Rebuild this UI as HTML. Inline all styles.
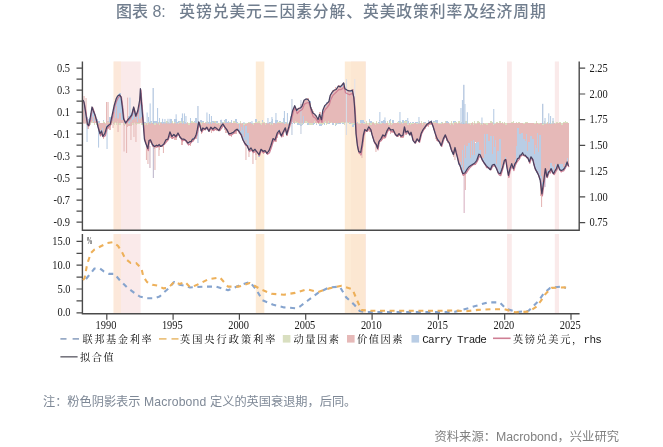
<!DOCTYPE html>
<html><head><meta charset="utf-8">
<style>
html,body{margin:0;padding:0;background:#fff;}
body{width:663px;height:447px;overflow:hidden;position:relative;}
svg{position:absolute;left:0;top:0;filter:blur(0.3px);}
.t{position:absolute;white-space:nowrap;}
.title{font-family:"Liberation Sans","Noto Sans CJK SC",sans-serif;font-weight:500;font-size:15.8px;letter-spacing:0.9px;color:#717E8E;top:1px;line-height:22px;}
.lg{position:absolute;white-space:nowrap;color:#1a1a1a;line-height:14px;}
.note{font-family:"Liberation Sans","Noto Sans CJK SC",sans-serif;font-size:12.3px;line-height:16px;}
</style></head><body>
<svg width="663" height="447" viewBox="0 0 663 447">
<rect x="114" y="61.5" width="26.6" height="168.5" fill="#FAEAEA"/>
<rect x="114" y="234" width="26.6" height="79" fill="#FAEAEA"/>
<rect x="351" y="61.5" width="15" height="168.5" fill="#FAEAEA"/>
<rect x="351" y="234" width="15" height="79" fill="#FAEAEA"/>
<rect x="507" y="61.5" width="4.8" height="168.5" fill="#FAEAEA"/>
<rect x="507" y="234" width="4.8" height="79" fill="#FAEAEA"/>
<rect x="554.8" y="61.5" width="4.2" height="168.5" fill="#FAEAEA"/>
<rect x="554.8" y="234" width="4.2" height="79" fill="#FAEAEA"/>
<rect x="113.2" y="61.5" width="7.8" height="168.5" fill="#FDE6CC" fill-opacity="0.55"/>
<rect x="113.2" y="234" width="7.8" height="79" fill="#FDE6CC" fill-opacity="0.55"/>
<rect x="255.8" y="61.5" width="8.5" height="168.5" fill="#FDE6CC" fill-opacity="0.8"/>
<rect x="255.8" y="234" width="8.5" height="79" fill="#FDE6CC" fill-opacity="0.8"/>
<rect x="344.8" y="61.5" width="20.7" height="168.5" fill="#FDE6CC" fill-opacity="0.8"/>
<rect x="344.8" y="234" width="20.7" height="79" fill="#FDE6CC" fill-opacity="0.8"/>
<g fill="#D9DFC0" shape-rendering="crispEdges"><rect x="82.7" y="123.2" width="1.5" height="0.2"/><rect x="83.8" y="121.3" width="1.5" height="1.9"/><rect x="86" y="123.2" width="1.5" height="1.4"/><rect x="87.1" y="122.6" width="1.5" height="0.6"/><rect x="88.2" y="123.2" width="1.5" height="1.8"/><rect x="89.3" y="123.2" width="1.5" height="1.8"/><rect x="90.4" y="122.3" width="1.5" height="0.9"/><rect x="91.5" y="121.1" width="1.5" height="2.1"/><rect x="92.6" y="122.5" width="1.5" height="0.7"/><rect x="93.8" y="123.2" width="1.5" height="1.5"/><rect x="94.9" y="123.1" width="1.5" height="0.1"/><rect x="96" y="123.2" width="1.5" height="1.4"/><rect x="97.1" y="123.2" width="1.5" height="2.1"/><rect x="98.2" y="123.2" width="1.5" height="0.3"/><rect x="99.3" y="123.1" width="1.5" height="0.1"/><rect x="101.5" y="123.2" width="1.5" height="0.2"/><rect x="102.6" y="121" width="1.5" height="2.2"/><rect x="103.7" y="121.7" width="1.5" height="1.5"/><rect x="104.8" y="123.2" width="1.5" height="0.8"/><rect x="105.9" y="123.2" width="1.5" height="0.9"/><rect x="107" y="122" width="1.5" height="1.2"/><rect x="108.1" y="121.7" width="1.5" height="1.5"/><rect x="109.2" y="121.2" width="1.5" height="2"/><rect x="110.3" y="123.2" width="1.5" height="2.2"/><rect x="111.4" y="121.4" width="1.5" height="1.8"/><rect x="112.5" y="121.1" width="1.5" height="2.1"/><rect x="113.6" y="123.2" width="1.5" height="1.9"/><rect x="114.7" y="122" width="1.5" height="1.2"/><rect x="115.9" y="123.2" width="1.5" height="1.8"/><rect x="117" y="121.2" width="1.5" height="2"/><rect x="118.1" y="123.2" width="1.5" height="1.7"/><rect x="119.2" y="123.2" width="1.5" height="1.8"/><rect x="120.3" y="121.9" width="1.5" height="1.3"/><rect x="121.4" y="122.9" width="1.5" height="0.3"/><rect x="122.5" y="123.2" width="1.5" height="1.4"/><rect x="123.6" y="123.2" width="1.5" height="1.6"/><rect x="124.7" y="123.2" width="1.5" height="1.7"/><rect x="125.8" y="123.2" width="1.5" height="1.3"/><rect x="126.9" y="121.1" width="1.5" height="2.1"/><rect x="128" y="123.2" width="1.5" height="0.9"/><rect x="129.1" y="123.2" width="1.5" height="1.3"/><rect x="130.2" y="121.6" width="1.5" height="1.6"/><rect x="131.3" y="123.2" width="1.5" height="1.8"/><rect x="132.4" y="123.2" width="1.5" height="1.3"/><rect x="133.5" y="122" width="1.5" height="1.2"/><rect x="134.6" y="123.2" width="1.5" height="0.9"/><rect x="135.7" y="123.2" width="1.5" height="1.8"/><rect x="136.8" y="123.2" width="1.5" height="1.1"/><rect x="138" y="123.2" width="1.5" height="0.6"/><rect x="139.1" y="121.2" width="1.5" height="2"/><rect x="140.2" y="122.9" width="1.5" height="0.3"/><rect x="141.3" y="123.2" width="1.5" height="1.4"/><rect x="142.4" y="121.4" width="1.5" height="1.8"/><rect x="143.5" y="123.2" width="1.5" height="1.4"/><rect x="144.6" y="123.2" width="1.5" height="1.3"/><rect x="145.7" y="122.7" width="1.5" height="0.5"/><rect x="146.8" y="123.2" width="1.5" height="2"/><rect x="147.9" y="122.3" width="1.5" height="0.9"/><rect x="149" y="122.8" width="1.5" height="0.4"/><rect x="150.1" y="122.2" width="1.5" height="1"/><rect x="151.2" y="122.9" width="1.5" height="0.3"/><rect x="152.3" y="123.2" width="1.5" height="1"/><rect x="153.4" y="123.2" width="1.5" height="2.1"/><rect x="154.5" y="123.2" width="1.5" height="1.9"/><rect x="155.6" y="122.9" width="1.5" height="0.3"/><rect x="156.7" y="121.5" width="1.5" height="1.7"/><rect x="157.8" y="122.4" width="1.5" height="0.8"/><rect x="158.9" y="123.2" width="1.5" height="2"/><rect x="160" y="122.3" width="1.5" height="0.9"/><rect x="161.2" y="122.6" width="1.5" height="0.6"/><rect x="162.3" y="123.2" width="1.5" height="0.8"/><rect x="163.4" y="123" width="1.5" height="0.2"/><rect x="164.5" y="122.2" width="1.5" height="1"/><rect x="165.6" y="121.4" width="1.5" height="1.8"/><rect x="166.7" y="121.4" width="1.5" height="1.8"/><rect x="167.8" y="121.9" width="1.5" height="1.3"/><rect x="168.9" y="122.7" width="1.5" height="0.5"/><rect x="170" y="122.7" width="1.5" height="0.5"/><rect x="171.1" y="121" width="1.5" height="2.2"/><rect x="172.2" y="123.2" width="1.5" height="0.5"/><rect x="173.3" y="123.2" width="1.5" height="0.3"/><rect x="174.4" y="122.1" width="1.5" height="1.1"/><rect x="175.5" y="123.2" width="1.5" height="0.1"/><rect x="177.7" y="123.2" width="1.5" height="1.1"/><rect x="178.8" y="122.4" width="1.5" height="0.8"/><rect x="179.9" y="121.4" width="1.5" height="1.8"/><rect x="181" y="121.5" width="1.5" height="1.7"/><rect x="182.1" y="123.2" width="1.5" height="1.3"/><rect x="183.3" y="121.4" width="1.5" height="1.8"/><rect x="184.4" y="122.8" width="1.5" height="0.4"/><rect x="186.6" y="122.3" width="1.5" height="0.9"/><rect x="187.7" y="123.2" width="1.5" height="1.5"/><rect x="188.8" y="123.2" width="1.5" height="1.3"/><rect x="191" y="121.1" width="1.5" height="2.1"/><rect x="192.1" y="123.2" width="1.5" height="2.1"/><rect x="193.2" y="122.3" width="1.5" height="0.9"/><rect x="194.3" y="121.9" width="1.5" height="1.3"/><rect x="195.4" y="123.2" width="1.5" height="0.2"/><rect x="196.5" y="123.2" width="1.5" height="1.2"/><rect x="197.6" y="122.6" width="1.5" height="0.6"/><rect x="198.7" y="122.5" width="1.5" height="0.7"/><rect x="199.8" y="122.4" width="1.5" height="0.8"/><rect x="200.9" y="123.2" width="1.5" height="1.4"/><rect x="202" y="122.3" width="1.5" height="0.9"/><rect x="203.1" y="123.2" width="1.5" height="0.7"/><rect x="204.2" y="122.7" width="1.5" height="0.5"/><rect x="205.4" y="121.9" width="1.5" height="1.3"/><rect x="206.5" y="121.3" width="1.5" height="1.9"/><rect x="207.6" y="123.2" width="1.5" height="0.2"/><rect x="208.7" y="123.2" width="1.5" height="0.5"/><rect x="209.8" y="121.9" width="1.5" height="1.3"/><rect x="210.9" y="122.5" width="1.5" height="0.7"/><rect x="212" y="121.8" width="1.5" height="1.4"/><rect x="213.1" y="123.2" width="1.5" height="1.3"/><rect x="214.2" y="121.1" width="1.5" height="2.1"/><rect x="215.3" y="123.2" width="1.5" height="0.8"/><rect x="216.4" y="123.2" width="1.5" height="0.7"/><rect x="217.5" y="123" width="1.5" height="0.2"/><rect x="218.6" y="123.2" width="1.5" height="2.1"/><rect x="219.7" y="121.9" width="1.5" height="1.3"/><rect x="220.8" y="121.9" width="1.5" height="1.3"/><rect x="221.9" y="123.1" width="1.5" height="0.1"/><rect x="223" y="122.4" width="1.5" height="0.8"/><rect x="224.1" y="121.2" width="1.5" height="2"/><rect x="225.2" y="123.1" width="1.5" height="0.1"/><rect x="226.3" y="122.6" width="1.5" height="0.6"/><rect x="227.5" y="122.9" width="1.5" height="0.3"/><rect x="228.6" y="121.7" width="1.5" height="1.5"/><rect x="229.7" y="121.7" width="1.5" height="1.5"/><rect x="230.8" y="122.9" width="1.5" height="0.3"/><rect x="233" y="121.1" width="1.5" height="2.1"/><rect x="234.1" y="121.9" width="1.5" height="1.3"/><rect x="235.2" y="122.4" width="1.5" height="0.8"/><rect x="236.3" y="123.2" width="1.5" height="0.4"/><rect x="237.4" y="123.2" width="1.5" height="1"/><rect x="238.5" y="123.2" width="1.5" height="0.3"/><rect x="239.6" y="121.4" width="1.5" height="1.8"/><rect x="240.7" y="123.2" width="1.5" height="0.8"/><rect x="241.8" y="122.7" width="1.5" height="0.5"/><rect x="242.9" y="123.2" width="1.5" height="1.6"/><rect x="244" y="123.2" width="1.5" height="2.1"/><rect x="245.1" y="123.2" width="1.5" height="1.2"/><rect x="246.2" y="123.2" width="1.5" height="0.8"/><rect x="247.3" y="122.7" width="1.5" height="0.5"/><rect x="248.4" y="122.2" width="1.5" height="1"/><rect x="250.7" y="123.1" width="1.5" height="0.1"/><rect x="251.8" y="123.2" width="1.5" height="0.4"/><rect x="252.9" y="123.2" width="1.5" height="1.3"/><rect x="254" y="123.1" width="1.5" height="0.1"/><rect x="255.1" y="121.6" width="1.5" height="1.6"/><rect x="256.2" y="121.8" width="1.5" height="1.4"/><rect x="257.3" y="123.2" width="1.5" height="0.8"/><rect x="258.4" y="121" width="1.5" height="2.2"/><rect x="259.5" y="123.2" width="1.5" height="1.1"/><rect x="260.6" y="123.2" width="1.5" height="1.8"/><rect x="261.7" y="121.9" width="1.5" height="1.3"/><rect x="262.8" y="122.4" width="1.5" height="0.8"/><rect x="263.9" y="122.4" width="1.5" height="0.8"/><rect x="265" y="123.2" width="1.5" height="1.7"/><rect x="267.2" y="123.2" width="1.5" height="1.9"/><rect x="268.3" y="123" width="1.5" height="0.2"/><rect x="269.4" y="123.2" width="1.5" height="1.6"/><rect x="270.5" y="121.7" width="1.5" height="1.5"/><rect x="271.7" y="123.2" width="1.5" height="1.8"/><rect x="272.8" y="123.2" width="1.5" height="0.2"/><rect x="273.9" y="123.2" width="1.5" height="0.1"/><rect x="275" y="122.8" width="1.5" height="0.4"/><rect x="276.1" y="121.7" width="1.5" height="1.5"/><rect x="277.2" y="122.1" width="1.5" height="1.1"/><rect x="278.3" y="123.2" width="1.5" height="1.5"/><rect x="279.4" y="121.5" width="1.5" height="1.7"/><rect x="280.5" y="121.6" width="1.5" height="1.6"/><rect x="281.6" y="122.8" width="1.5" height="0.4"/><rect x="282.7" y="121.9" width="1.5" height="1.3"/><rect x="283.8" y="122.1" width="1.5" height="1.1"/><rect x="284.9" y="123.2" width="1.5" height="0.4"/><rect x="286" y="122.3" width="1.5" height="0.9"/><rect x="287.1" y="123.2" width="1.5" height="0.4"/><rect x="288.2" y="123.2" width="1.5" height="0.7"/><rect x="289.3" y="123.2" width="1.5" height="0.6"/><rect x="290.4" y="123.2" width="1.5" height="1.2"/><rect x="291.5" y="122.5" width="1.5" height="0.7"/><rect x="292.6" y="122.5" width="1.5" height="0.7"/><rect x="293.8" y="123.1" width="1.5" height="0.1"/><rect x="294.9" y="121" width="1.5" height="2.2"/><rect x="296" y="122.3" width="1.5" height="0.9"/><rect x="297.1" y="121.1" width="1.5" height="2.1"/><rect x="298.2" y="122.7" width="1.5" height="0.5"/><rect x="299.3" y="123.2" width="1.5" height="1.1"/><rect x="300.4" y="123.2" width="1.5" height="2"/><rect x="301.5" y="123.2" width="1.5" height="0.5"/><rect x="302.6" y="123.2" width="1.5" height="1.1"/><rect x="303.7" y="123" width="1.5" height="0.2"/><rect x="304.8" y="121.1" width="1.5" height="2.1"/><rect x="305.9" y="121" width="1.5" height="2.2"/><rect x="307" y="121.8" width="1.5" height="1.4"/><rect x="308.1" y="122.8" width="1.5" height="0.4"/><rect x="309.2" y="123.2" width="1.5" height="2"/><rect x="310.3" y="123.2" width="1.5" height="1.5"/><rect x="311.4" y="123.2" width="1.5" height="1.5"/><rect x="312.5" y="122.7" width="1.5" height="0.5"/><rect x="313.6" y="121.2" width="1.5" height="2"/><rect x="314.7" y="123.1" width="1.5" height="0.1"/><rect x="315.9" y="123.2" width="1.5" height="0.6"/><rect x="317" y="122.5" width="1.5" height="0.7"/><rect x="318.1" y="123.2" width="1.5" height="1"/><rect x="319.2" y="123.2" width="1.5" height="0.9"/><rect x="320.3" y="123.2" width="1.5" height="1.1"/><rect x="321.4" y="123.2" width="1.5" height="1.5"/><rect x="322.5" y="123.2" width="1.5" height="0.5"/><rect x="323.6" y="122.1" width="1.5" height="1.1"/><rect x="324.7" y="121" width="1.5" height="2.2"/><rect x="325.8" y="123.2" width="1.5" height="1.9"/><rect x="326.9" y="123.2" width="1.5" height="0.3"/><rect x="328" y="121.1" width="1.5" height="2.1"/><rect x="329.1" y="123.1" width="1.5" height="0.1"/><rect x="330.2" y="122.2" width="1.5" height="1"/><rect x="331.3" y="121.1" width="1.5" height="2.1"/><rect x="332.4" y="122.7" width="1.5" height="0.5"/><rect x="333.5" y="122.7" width="1.5" height="0.5"/><rect x="334.6" y="123.2" width="1.5" height="1.3"/><rect x="335.7" y="123.1" width="1.5" height="0.1"/><rect x="336.9" y="123.2" width="1.5" height="0.3"/><rect x="338" y="123.2" width="1.5" height="0.2"/><rect x="339.1" y="122.8" width="1.5" height="0.4"/><rect x="340.2" y="122" width="1.5" height="1.2"/><rect x="341.3" y="121" width="1.5" height="2.2"/><rect x="342.4" y="122.2" width="1.5" height="1"/><rect x="343.5" y="123.2" width="1.5" height="1.7"/><rect x="344.6" y="121.9" width="1.5" height="1.3"/><rect x="345.7" y="123.2" width="1.5" height="0.6"/><rect x="346.8" y="122.4" width="1.5" height="0.8"/><rect x="347.9" y="122.8" width="1.5" height="0.4"/><rect x="349" y="122.1" width="1.5" height="1.1"/><rect x="350.1" y="123.2" width="1.5" height="1.1"/><rect x="351.2" y="121.4" width="1.5" height="1.8"/><rect x="352.3" y="123.2" width="1.5" height="2"/><rect x="353.4" y="123.2" width="1.5" height="1"/><rect x="354.5" y="122.7" width="1.5" height="0.5"/><rect x="355.6" y="123" width="1.5" height="0.2"/><rect x="356.7" y="122.4" width="1.5" height="0.8"/><rect x="357.8" y="123.2" width="1.5" height="0.6"/><rect x="359" y="123.2" width="1.5" height="0.7"/><rect x="360.1" y="123.2" width="1.5" height="1.9"/><rect x="361.2" y="122.7" width="1.5" height="0.5"/><rect x="362.3" y="123.2" width="1.5" height="0.3"/><rect x="363.4" y="123.2" width="1.5" height="0.6"/><rect x="364.5" y="123.2" width="1.5" height="0.8"/><rect x="365.6" y="121.3" width="1.5" height="1.9"/><rect x="366.7" y="123.2" width="1.5" height="1.8"/><rect x="367.8" y="123.2" width="1.5" height="1.8"/><rect x="368.9" y="122.4" width="1.5" height="0.8"/><rect x="370" y="123.2" width="1.5" height="1.9"/><rect x="371.1" y="123.2" width="1.5" height="1.8"/><rect x="372.2" y="122.3" width="1.5" height="0.9"/><rect x="373.3" y="123.2" width="1.5" height="0.6"/><rect x="374.4" y="123.2" width="1.5" height="1.7"/><rect x="375.5" y="121.4" width="1.5" height="1.8"/><rect x="376.6" y="123.2" width="1.5" height="0.3"/><rect x="377.7" y="123.2" width="1.5" height="0.8"/><rect x="378.8" y="121.5" width="1.5" height="1.7"/><rect x="379.9" y="123.2" width="1.5" height="0.6"/><rect x="381.1" y="123.2" width="1.5" height="0.5"/><rect x="382.2" y="121.9" width="1.5" height="1.3"/><rect x="383.3" y="122.9" width="1.5" height="0.3"/><rect x="384.4" y="121.5" width="1.5" height="1.7"/><rect x="385.5" y="123.1" width="1.5" height="0.1"/><rect x="386.6" y="121.1" width="1.5" height="2.1"/><rect x="387.7" y="123.2" width="1.5" height="1.9"/><rect x="388.8" y="123.2" width="1.5" height="1.8"/><rect x="389.9" y="121.4" width="1.5" height="1.8"/><rect x="391" y="123.2" width="1.5" height="1.6"/><rect x="392.1" y="123.2" width="1.5" height="1.1"/><rect x="393.2" y="123.1" width="1.5" height="0.1"/><rect x="394.3" y="123.2" width="1.5" height="0.7"/><rect x="396.5" y="122.3" width="1.5" height="0.9"/><rect x="397.6" y="121.8" width="1.5" height="1.4"/><rect x="398.7" y="121.9" width="1.5" height="1.3"/><rect x="399.8" y="121.2" width="1.5" height="2"/><rect x="400.9" y="122.3" width="1.5" height="0.9"/><rect x="402" y="123.2" width="1.5" height="0.3"/><rect x="403.2" y="121" width="1.5" height="2.2"/><rect x="404.3" y="123.2" width="1.5" height="1.3"/><rect x="405.4" y="121.1" width="1.5" height="2.1"/><rect x="406.5" y="123.2" width="1.5" height="1.7"/><rect x="407.6" y="123.2" width="1.5" height="1.4"/><rect x="408.7" y="122.8" width="1.5" height="0.4"/><rect x="409.8" y="123.2" width="1.5" height="1.7"/><rect x="410.9" y="123.2" width="1.5" height="1.2"/><rect x="412" y="123.2" width="1.5" height="1.2"/><rect x="413.1" y="123.2" width="1.5" height="1.4"/><rect x="414.2" y="123" width="1.5" height="0.2"/><rect x="415.3" y="123.2" width="1.5" height="1.1"/><rect x="416.4" y="123.2" width="1.5" height="0.7"/><rect x="417.5" y="123.2" width="1.5" height="0.1"/><rect x="418.6" y="121.2" width="1.5" height="2"/><rect x="419.7" y="123.1" width="1.5" height="0.1"/><rect x="420.8" y="121" width="1.5" height="2.2"/><rect x="421.9" y="123.2" width="1.5" height="2.2"/><rect x="423" y="121.9" width="1.5" height="1.3"/><rect x="424.1" y="123.2" width="1.5" height="1.5"/><rect x="425.3" y="123.2" width="1.5" height="1.1"/><rect x="426.4" y="122.6" width="1.5" height="0.6"/><rect x="427.5" y="123" width="1.5" height="0.2"/><rect x="428.6" y="123.2" width="1.5" height="2.2"/><rect x="429.7" y="121.8" width="1.5" height="1.4"/><rect x="430.8" y="122.2" width="1.5" height="1"/><rect x="431.9" y="123.2" width="1.5" height="0.1"/><rect x="433" y="121.6" width="1.5" height="1.6"/><rect x="434.1" y="123.2" width="1.5" height="0.4"/><rect x="435.2" y="121.8" width="1.5" height="1.4"/><rect x="436.3" y="123.1" width="1.5" height="0.1"/><rect x="437.4" y="123.2" width="1.5" height="0.8"/><rect x="438.5" y="123.2" width="1.5" height="0.9"/><rect x="439.6" y="123.2" width="1.5" height="0.6"/><rect x="440.7" y="123.2" width="1.5" height="0.5"/><rect x="441.8" y="121.7" width="1.5" height="1.5"/><rect x="442.9" y="123.2" width="1.5" height="0.5"/><rect x="444" y="122.9" width="1.5" height="0.3"/><rect x="445.1" y="121" width="1.5" height="2.2"/><rect x="446.2" y="122.7" width="1.5" height="0.5"/><rect x="447.4" y="123" width="1.5" height="0.2"/><rect x="448.5" y="123.2" width="1.5" height="0.5"/><rect x="449.6" y="123.2" width="1.5" height="1.3"/><rect x="450.7" y="121.2" width="1.5" height="2"/><rect x="451.8" y="123.2" width="1.5" height="0.7"/><rect x="452.9" y="123.2" width="1.5" height="1.6"/><rect x="454" y="122.3" width="1.5" height="0.9"/><rect x="455.1" y="121.7" width="1.5" height="1.5"/><rect x="456.2" y="123.2" width="1.5" height="1.2"/><rect x="457.3" y="123.2" width="1.5" height="0.4"/><rect x="458.4" y="121.3" width="1.5" height="1.9"/><rect x="459.5" y="123.1" width="1.5" height="0.1"/><rect x="460.6" y="122" width="1.5" height="1.2"/><rect x="461.7" y="123.2" width="1.5" height="0.5"/><rect x="462.8" y="123.2" width="1.5" height="0.4"/><rect x="463.9" y="123.2" width="1.5" height="0.4"/><rect x="465" y="121.1" width="1.5" height="2.1"/><rect x="466.1" y="122.5" width="1.5" height="0.7"/><rect x="467.2" y="123.2" width="1.5" height="2.1"/><rect x="468.3" y="123.2" width="1.5" height="0.7"/><rect x="469.5" y="123.2" width="1.5" height="1.7"/><rect x="471.7" y="121.8" width="1.5" height="1.4"/><rect x="472.8" y="123.2" width="1.5" height="1.5"/><rect x="473.9" y="121.4" width="1.5" height="1.8"/><rect x="475" y="123.2" width="1.5" height="0.6"/><rect x="476.1" y="123.2" width="1.5" height="1.6"/><rect x="477.2" y="121.1" width="1.5" height="2.1"/><rect x="478.3" y="122.3" width="1.5" height="0.9"/><rect x="479.4" y="123.2" width="1.5" height="1.3"/><rect x="480.5" y="122.6" width="1.5" height="0.6"/><rect x="481.6" y="123.2" width="1.5" height="1.8"/><rect x="482.7" y="122.9" width="1.5" height="0.3"/><rect x="483.8" y="123.2" width="1.5" height="0.8"/><rect x="484.9" y="123.2" width="1.5" height="0.6"/><rect x="486" y="123.2" width="1.5" height="1.7"/><rect x="487.1" y="123.2" width="1.5" height="1.6"/><rect x="488.2" y="123" width="1.5" height="0.2"/><rect x="489.3" y="122.9" width="1.5" height="0.3"/><rect x="490.4" y="121.4" width="1.5" height="1.8"/><rect x="491.6" y="121.8" width="1.5" height="1.4"/><rect x="492.7" y="123.2" width="1.5" height="1.7"/><rect x="493.8" y="123.2" width="1.5" height="0.9"/><rect x="494.9" y="123.2" width="1.5" height="1.1"/><rect x="496" y="121.7" width="1.5" height="1.5"/><rect x="497.1" y="123" width="1.5" height="0.2"/><rect x="498.2" y="123.2" width="1.5" height="2.1"/><rect x="499.3" y="121.1" width="1.5" height="2.1"/><rect x="500.4" y="122.5" width="1.5" height="0.7"/><rect x="501.5" y="122.4" width="1.5" height="0.8"/><rect x="502.6" y="123.2" width="1.5" height="0.5"/><rect x="503.7" y="121.9" width="1.5" height="1.3"/><rect x="504.8" y="123.2" width="1.5" height="1.3"/><rect x="505.9" y="123.2" width="1.5" height="1.6"/><rect x="507" y="122.9" width="1.5" height="0.3"/><rect x="508.1" y="123.1" width="1.5" height="0.1"/><rect x="509.2" y="122.9" width="1.5" height="0.3"/><rect x="510.3" y="122.6" width="1.5" height="0.6"/><rect x="511.4" y="122.4" width="1.5" height="0.8"/><rect x="512.5" y="121.2" width="1.5" height="2"/><rect x="513.7" y="123.2" width="1.5" height="0.1"/><rect x="514.8" y="122.7" width="1.5" height="0.5"/><rect x="515.9" y="122.1" width="1.5" height="1.1"/><rect x="517" y="123.2" width="1.5" height="0.1"/><rect x="518.1" y="121.7" width="1.5" height="1.5"/><rect x="519.2" y="123.2" width="1.5" height="0.4"/><rect x="520.3" y="122.9" width="1.5" height="0.3"/><rect x="521.4" y="123.1" width="1.5" height="0.1"/><rect x="522.5" y="123.2" width="1.5" height="0.3"/><rect x="523.6" y="123.2" width="1.5" height="0.8"/><rect x="524.7" y="122.2" width="1.5" height="1"/><rect x="525.8" y="122.2" width="1.5" height="1"/><rect x="526.9" y="122.1" width="1.5" height="1.1"/><rect x="528" y="122.8" width="1.5" height="0.4"/><rect x="529.1" y="123.2" width="1.5" height="1.7"/><rect x="531.3" y="123.2" width="1.5" height="2"/><rect x="532.4" y="123.1" width="1.5" height="0.1"/><rect x="533.5" y="123.2" width="1.5" height="0.9"/><rect x="534.6" y="123.2" width="1.5" height="1.2"/><rect x="535.8" y="121.4" width="1.5" height="1.8"/><rect x="536.9" y="122.5" width="1.5" height="0.7"/><rect x="538" y="123.2" width="1.5" height="0.3"/><rect x="539.1" y="123.2" width="1.5" height="1.2"/><rect x="540.2" y="122.9" width="1.5" height="0.3"/><rect x="541.3" y="123.2" width="1.5" height="1.8"/><rect x="542.4" y="123.2" width="1.5" height="1.7"/><rect x="543.5" y="121.2" width="1.5" height="2"/><rect x="544.6" y="123.2" width="1.5" height="1.1"/><rect x="545.7" y="123.2" width="1.5" height="0.8"/><rect x="546.8" y="121.5" width="1.5" height="1.7"/><rect x="547.9" y="123.2" width="1.5" height="0.5"/><rect x="549" y="122.8" width="1.5" height="0.4"/><rect x="550.1" y="123.2" width="1.5" height="2.1"/><rect x="551.2" y="123.2" width="1.5" height="0.8"/><rect x="552.3" y="121.3" width="1.5" height="1.9"/><rect x="553.4" y="123.2" width="1.5" height="0.1"/><rect x="554.5" y="123.2" width="1.5" height="0.9"/><rect x="555.6" y="121.5" width="1.5" height="1.7"/><rect x="556.7" y="121.7" width="1.5" height="1.5"/><rect x="557.9" y="123.2" width="1.5" height="0.1"/><rect x="559" y="121.5" width="1.5" height="1.7"/><rect x="560.1" y="123.2" width="1.5" height="1.3"/><rect x="561.2" y="123.2" width="1.5" height="1.4"/><rect x="562.3" y="123.2" width="1.5" height="2"/><rect x="563.4" y="122.2" width="1.5" height="1"/><rect x="564.5" y="121.4" width="1.5" height="1.8"/><rect x="565.6" y="122.3" width="1.5" height="0.9"/><rect x="566.7" y="122.3" width="1.5" height="0.9"/><rect x="567.8" y="123.2" width="1.5" height="0.2"/></g>
<g fill="#E6B9B8" shape-rendering="crispEdges"><rect x="82.7" y="109.9" width="1.5" height="13.3"/><rect x="83.8" y="119.9" width="1.5" height="1.5"/><rect x="84.9" y="117.9" width="1.5" height="5.3"/><rect x="86" y="123" width="1.5" height="0.2"/><rect x="87.1" y="123.2" width="1.5" height="5.3"/><rect x="88.2" y="125" width="1.5" height="0.3"/><rect x="89.3" y="122.9" width="1.5" height="0.3"/><rect x="90.4" y="120.4" width="1.5" height="2"/><rect x="91.5" y="116.9" width="1.5" height="4.2"/><rect x="92.6" y="122.4" width="1.5" height="0.1"/><rect x="93.8" y="114.8" width="1.5" height="8.4"/><rect x="94.9" y="121.3" width="1.5" height="1.7"/><rect x="96" y="121.1" width="1.5" height="2.1"/><rect x="97.1" y="125.3" width="1.5" height="0.9"/><rect x="98.2" y="123.5" width="1.5" height="8.3"/><rect x="99.3" y="123.2" width="1.5" height="6.3"/><rect x="100.4" y="123.2" width="1.5" height="9.5"/><rect x="101.5" y="123.4" width="1.5" height="4.2"/><rect x="102.6" y="123.2" width="1.5" height="16.1"/><rect x="103.7" y="123.2" width="1.5" height="8.4"/><rect x="104.8" y="124" width="1.5" height="6.4"/><rect x="105.9" y="124.1" width="1.5" height="0.9"/><rect x="107" y="123.2" width="1.5" height="5.3"/><rect x="108.1" y="123.2" width="1.5" height="4.1"/><rect x="109.2" y="123.2" width="1.5" height="7.2"/><rect x="110.3" y="121.4" width="1.5" height="1.8"/><rect x="111.4" y="120.5" width="1.5" height="0.9"/><rect x="112.5" y="123.2" width="1.5" height="0.4"/><rect x="113.6" y="112.1" width="1.5" height="11.1"/><rect x="114.7" y="118.1" width="1.5" height="3.8"/><rect x="115.9" y="105.7" width="1.5" height="17.5"/><rect x="117" y="118.9" width="1.5" height="2.3"/><rect x="118.1" y="103.3" width="1.5" height="19.9"/><rect x="119.2" y="113.3" width="1.5" height="9.9"/><rect x="120.3" y="105.4" width="1.5" height="16.5"/><rect x="121.4" y="119.7" width="1.5" height="3.3"/><rect x="122.5" y="118.8" width="1.5" height="4.4"/><rect x="123.6" y="124.8" width="1.5" height="0.7"/><rect x="124.7" y="123" width="1.5" height="0.2"/><rect x="125.8" y="122.9" width="1.5" height="0.3"/><rect x="126.9" y="123.2" width="1.5" height="4"/><rect x="128" y="124.1" width="1.5" height="2.3"/><rect x="129.1" y="120" width="1.5" height="3.2"/><rect x="130.2" y="123.2" width="1.5" height="2.7"/><rect x="131.3" y="120.2" width="1.5" height="3"/><rect x="132.4" y="119.2" width="1.5" height="4"/><rect x="133.5" y="114.7" width="1.5" height="7.3"/><rect x="134.6" y="119.8" width="1.5" height="3.4"/><rect x="135.7" y="118.2" width="1.5" height="5"/><rect x="136.8" y="121.6" width="1.5" height="1.6"/><rect x="138" y="113.3" width="1.5" height="9.9"/><rect x="139.1" y="118.8" width="1.5" height="2.4"/><rect x="140.2" y="106" width="1.5" height="16.8"/><rect x="141.3" y="117.4" width="1.5" height="5.8"/><rect x="142.4" y="119" width="1.5" height="2.4"/><rect x="143.5" y="124.6" width="1.5" height="10.4"/><rect x="144.6" y="124.5" width="1.5" height="17.6"/><rect x="145.7" y="123.2" width="1.5" height="21"/><rect x="146.8" y="125.2" width="1.5" height="21.7"/><rect x="147.9" y="123.2" width="1.5" height="26.9"/><rect x="149" y="123.2" width="1.5" height="18.5"/><rect x="150.1" y="123.2" width="1.5" height="19.5"/><rect x="151.2" y="123.2" width="1.5" height="20.3"/><rect x="152.3" y="124.2" width="1.5" height="20.2"/><rect x="153.4" y="125.3" width="1.5" height="23.3"/><rect x="154.5" y="125.1" width="1.5" height="23.2"/><rect x="155.6" y="123.2" width="1.5" height="24.7"/><rect x="156.7" y="123.2" width="1.5" height="23.8"/><rect x="157.8" y="123.2" width="1.5" height="21.6"/><rect x="158.9" y="125.2" width="1.5" height="24.9"/><rect x="160" y="123.2" width="1.5" height="22"/><rect x="161.2" y="123.2" width="1.5" height="23.7"/><rect x="162.3" y="124" width="1.5" height="20.1"/><rect x="163.4" y="123.2" width="1.5" height="21.7"/><rect x="164.5" y="123.2" width="1.5" height="20"/><rect x="165.6" y="123.2" width="1.5" height="18.7"/><rect x="166.7" y="123.2" width="1.5" height="17.8"/><rect x="167.8" y="123.2" width="1.5" height="15.8"/><rect x="168.9" y="123.2" width="1.5" height="11"/><rect x="170" y="123.2" width="1.5" height="14.4"/><rect x="171.1" y="123.2" width="1.5" height="15.3"/><rect x="172.2" y="123.7" width="1.5" height="12.1"/><rect x="173.3" y="123.5" width="1.5" height="10.2"/><rect x="174.4" y="123.2" width="1.5" height="17.1"/><rect x="175.5" y="123.3" width="1.5" height="17.1"/><rect x="176.6" y="123.2" width="1.5" height="12"/><rect x="177.7" y="124.3" width="1.5" height="11.1"/><rect x="178.8" y="123.2" width="1.5" height="14.4"/><rect x="179.9" y="123.2" width="1.5" height="16"/><rect x="181" y="123.2" width="1.5" height="21.3"/><rect x="182.1" y="124.5" width="1.5" height="15.3"/><rect x="183.3" y="123.2" width="1.5" height="17.6"/><rect x="184.4" y="123.2" width="1.5" height="17.8"/><rect x="185.5" y="123.2" width="1.5" height="18"/><rect x="186.6" y="123.2" width="1.5" height="19.3"/><rect x="187.7" y="124.7" width="1.5" height="17.9"/><rect x="188.8" y="124.5" width="1.5" height="17.9"/><rect x="189.9" y="123.2" width="1.5" height="22.9"/><rect x="191" y="123.2" width="1.5" height="18"/><rect x="192.1" y="125.3" width="1.5" height="12.7"/><rect x="193.2" y="123.2" width="1.5" height="15.3"/><rect x="194.3" y="123.2" width="1.5" height="16"/><rect x="195.4" y="123.4" width="1.5" height="15.7"/><rect x="196.5" y="124.4" width="1.5" height="6.3"/><rect x="197.6" y="123.2" width="1.5" height="2.4"/><rect x="198.7" y="123.2" width="1.5" height="2"/><rect x="199.8" y="123.2" width="1.5" height="7.8"/><rect x="200.9" y="124.6" width="1.5" height="9.2"/><rect x="202" y="123.2" width="1.5" height="7.8"/><rect x="203.1" y="123.9" width="1.5" height="4.6"/><rect x="204.2" y="123.2" width="1.5" height="6.3"/><rect x="205.4" y="123.2" width="1.5" height="5.4"/><rect x="206.5" y="123.2" width="1.5" height="5.6"/><rect x="207.6" y="123.4" width="1.5" height="7.3"/><rect x="208.7" y="123.7" width="1.5" height="7.4"/><rect x="209.8" y="123.2" width="1.5" height="6.2"/><rect x="210.9" y="123.2" width="1.5" height="9.6"/><rect x="212" y="123.2" width="1.5" height="7.6"/><rect x="213.1" y="124.5" width="1.5" height="4.9"/><rect x="214.2" y="123.2" width="1.5" height="6.7"/><rect x="215.3" y="124" width="1.5" height="4.7"/><rect x="216.4" y="123.9" width="1.5" height="7.5"/><rect x="217.5" y="123.2" width="1.5" height="6.8"/><rect x="218.6" y="125.3" width="1.5" height="3.9"/><rect x="219.7" y="123.2" width="1.5" height="7.9"/><rect x="220.8" y="123.2" width="1.5" height="4.8"/><rect x="221.9" y="123.2" width="1.5" height="2"/><rect x="223" y="123.2" width="1.5" height="2.7"/><rect x="224.1" y="123.2" width="1.5" height="7"/><rect x="225.2" y="123.2" width="1.5" height="9.7"/><rect x="226.3" y="123.2" width="1.5" height="8"/><rect x="227.5" y="123.2" width="1.5" height="11.5"/><rect x="228.6" y="123.2" width="1.5" height="11.6"/><rect x="229.7" y="123.2" width="1.5" height="11.9"/><rect x="230.8" y="123.2" width="1.5" height="13.5"/><rect x="231.9" y="123.2" width="1.5" height="8.7"/><rect x="233" y="123.2" width="1.5" height="10.7"/><rect x="234.1" y="123.2" width="1.5" height="9.1"/><rect x="235.2" y="123.2" width="1.5" height="11"/><rect x="236.3" y="123.6" width="1.5" height="6.6"/><rect x="237.4" y="124.2" width="1.5" height="5.2"/><rect x="238.5" y="123.5" width="1.5" height="0.3"/><rect x="239.6" y="123.2" width="1.5" height="7.8"/><rect x="240.7" y="124" width="1.5" height="3.1"/><rect x="241.8" y="123.2" width="1.5" height="7"/><rect x="242.9" y="123.1" width="1.5" height="0.1"/><rect x="244" y="125.3" width="1.5" height="12"/><rect x="245.1" y="124.4" width="1.5" height="1.4"/><rect x="246.2" y="124" width="1.5" height="13.8"/><rect x="247.3" y="123.2" width="1.5" height="9.3"/><rect x="248.4" y="123.2" width="1.5" height="21.1"/><rect x="249.6" y="123.2" width="1.5" height="26.5"/><rect x="250.7" y="123.2" width="1.5" height="25"/><rect x="251.8" y="123.6" width="1.5" height="25.9"/><rect x="252.9" y="124.5" width="1.5" height="26.7"/><rect x="254" y="123.2" width="1.5" height="26.9"/><rect x="255.1" y="123.2" width="1.5" height="31.5"/><rect x="256.2" y="123.2" width="1.5" height="29.4"/><rect x="257.3" y="124" width="1.5" height="28.6"/><rect x="258.4" y="123.2" width="1.5" height="32.9"/><rect x="259.5" y="124.3" width="1.5" height="27"/><rect x="260.6" y="125" width="1.5" height="24.3"/><rect x="261.7" y="123.2" width="1.5" height="30.2"/><rect x="262.8" y="123.2" width="1.5" height="29.6"/><rect x="263.9" y="123.2" width="1.5" height="29.3"/><rect x="265" y="124.9" width="1.5" height="27"/><rect x="266.1" y="123.2" width="1.5" height="29.1"/><rect x="267.2" y="125.1" width="1.5" height="27.3"/><rect x="268.3" y="123.2" width="1.5" height="27.9"/><rect x="269.4" y="124.8" width="1.5" height="24"/><rect x="270.5" y="123.2" width="1.5" height="24.1"/><rect x="271.7" y="125" width="1.5" height="20.1"/><rect x="272.8" y="123.4" width="1.5" height="15.1"/><rect x="273.9" y="123.3" width="1.5" height="16"/><rect x="275" y="123.2" width="1.5" height="18.4"/><rect x="276.1" y="123.2" width="1.5" height="15.1"/><rect x="277.2" y="123.2" width="1.5" height="9.7"/><rect x="278.3" y="124.7" width="1.5" height="5.3"/><rect x="279.4" y="123.2" width="1.5" height="11.4"/><rect x="280.5" y="123.2" width="1.5" height="13.7"/><rect x="281.6" y="123.2" width="1.5" height="12.2"/><rect x="282.7" y="123.2" width="1.5" height="13.7"/><rect x="283.8" y="123.2" width="1.5" height="8.2"/><rect x="284.9" y="123.6" width="1.5" height="5.8"/><rect x="286" y="123.2" width="1.5" height="12.5"/><rect x="287.1" y="123.6" width="1.5" height="6.4"/><rect x="288.2" y="123.9" width="1.5" height="2.2"/><rect x="289.3" y="122.3" width="1.5" height="0.9"/><rect x="290.4" y="118.6" width="1.5" height="4.6"/><rect x="291.5" y="112.4" width="1.5" height="10"/><rect x="292.6" y="109.5" width="1.5" height="13"/><rect x="293.8" y="106.2" width="1.5" height="16.9"/><rect x="294.9" y="107.9" width="1.5" height="13.1"/><rect x="296" y="111" width="1.5" height="11.3"/><rect x="297.1" y="107.6" width="1.5" height="13.5"/><rect x="298.2" y="109.3" width="1.5" height="13.3"/><rect x="299.3" y="106.7" width="1.5" height="16.5"/><rect x="300.4" y="104.3" width="1.5" height="18.9"/><rect x="301.5" y="103.9" width="1.5" height="19.3"/><rect x="302.6" y="103.3" width="1.5" height="19.9"/><rect x="303.7" y="100.1" width="1.5" height="22.9"/><rect x="304.8" y="99.6" width="1.5" height="21.6"/><rect x="305.9" y="99.6" width="1.5" height="21.4"/><rect x="307" y="97.7" width="1.5" height="24.2"/><rect x="308.1" y="101.5" width="1.5" height="21.3"/><rect x="309.2" y="103" width="1.5" height="20.2"/><rect x="310.3" y="106.5" width="1.5" height="16.7"/><rect x="311.4" y="109.4" width="1.5" height="13.8"/><rect x="312.5" y="111.4" width="1.5" height="11.3"/><rect x="313.6" y="113.6" width="1.5" height="7.6"/><rect x="314.7" y="115.4" width="1.5" height="7.7"/><rect x="315.9" y="115" width="1.5" height="8.2"/><rect x="317" y="118.7" width="1.5" height="3.8"/><rect x="318.1" y="117.6" width="1.5" height="5.6"/><rect x="319.2" y="112.1" width="1.5" height="11.1"/><rect x="320.3" y="114.9" width="1.5" height="8.3"/><rect x="321.4" y="116.1" width="1.5" height="7.1"/><rect x="322.5" y="110.8" width="1.5" height="12.4"/><rect x="323.6" y="105.3" width="1.5" height="16.8"/><rect x="324.7" y="106.9" width="1.5" height="14.1"/><rect x="325.8" y="103.8" width="1.5" height="19.4"/><rect x="326.9" y="102.5" width="1.5" height="20.7"/><rect x="328" y="100.8" width="1.5" height="20.3"/><rect x="329.1" y="99.7" width="1.5" height="23.4"/><rect x="330.2" y="94.4" width="1.5" height="27.8"/><rect x="331.3" y="93.9" width="1.5" height="27.2"/><rect x="332.4" y="89.8" width="1.5" height="33"/><rect x="333.5" y="90" width="1.5" height="32.6"/><rect x="334.6" y="86.7" width="1.5" height="36.5"/><rect x="335.7" y="87.8" width="1.5" height="35.2"/><rect x="336.9" y="88" width="1.5" height="35.2"/><rect x="338" y="85" width="1.5" height="38.2"/><rect x="339.1" y="86.2" width="1.5" height="36.6"/><rect x="340.2" y="86.5" width="1.5" height="35.5"/><rect x="341.3" y="87.1" width="1.5" height="33.9"/><rect x="342.4" y="82.8" width="1.5" height="39.4"/><rect x="343.5" y="84.5" width="1.5" height="38.7"/><rect x="344.6" y="89.4" width="1.5" height="32.6"/><rect x="345.7" y="88.1" width="1.5" height="35.1"/><rect x="346.8" y="90.5" width="1.5" height="31.9"/><rect x="347.9" y="91.1" width="1.5" height="31.7"/><rect x="349" y="89.6" width="1.5" height="32.5"/><rect x="350.1" y="91.6" width="1.5" height="31.6"/><rect x="351.2" y="91.9" width="1.5" height="29.5"/><rect x="352.3" y="89.1" width="1.5" height="34.1"/><rect x="353.4" y="98.7" width="1.5" height="24.5"/><rect x="354.5" y="114.3" width="1.5" height="8.4"/><rect x="355.6" y="123.2" width="1.5" height="12.5"/><rect x="356.7" y="123.2" width="1.5" height="22.5"/><rect x="357.8" y="123.8" width="1.5" height="25.9"/><rect x="359" y="123.9" width="1.5" height="28.7"/><rect x="360.1" y="125.1" width="1.5" height="30.4"/><rect x="361.2" y="123.2" width="1.5" height="23.3"/><rect x="362.3" y="123.5" width="1.5" height="18.8"/><rect x="363.4" y="123.8" width="1.5" height="10.1"/><rect x="364.5" y="124" width="1.5" height="6.2"/><rect x="365.6" y="123.2" width="1.5" height="8.8"/><rect x="366.7" y="125" width="1.5" height="4.2"/><rect x="367.8" y="125" width="1.5" height="2.7"/><rect x="368.9" y="123.2" width="1.5" height="8.4"/><rect x="370" y="125.1" width="1.5" height="6.7"/><rect x="371.1" y="125" width="1.5" height="8.5"/><rect x="372.2" y="123.2" width="1.5" height="15.2"/><rect x="373.3" y="123.8" width="1.5" height="16.4"/><rect x="374.4" y="124.9" width="1.5" height="17.9"/><rect x="375.5" y="123.2" width="1.5" height="23.6"/><rect x="376.6" y="123.5" width="1.5" height="23.5"/><rect x="377.7" y="124" width="1.5" height="21.4"/><rect x="378.8" y="123.2" width="1.5" height="20.9"/><rect x="379.9" y="123.8" width="1.5" height="15.4"/><rect x="381.1" y="123.7" width="1.5" height="16.1"/><rect x="382.2" y="123.2" width="1.5" height="14.1"/><rect x="383.3" y="123.2" width="1.5" height="15.6"/><rect x="384.4" y="123.2" width="1.5" height="14.7"/><rect x="385.5" y="123.2" width="1.5" height="10.2"/><rect x="386.6" y="123.2" width="1.5" height="10"/><rect x="387.7" y="125.1" width="1.5" height="4.1"/><rect x="388.8" y="125" width="1.5" height="6"/><rect x="389.9" y="123.2" width="1.5" height="10.7"/><rect x="391" y="124.8" width="1.5" height="5.5"/><rect x="392.1" y="124.3" width="1.5" height="8.4"/><rect x="393.2" y="123.2" width="1.5" height="7.7"/><rect x="394.3" y="123.9" width="1.5" height="9.7"/><rect x="395.4" y="123.2" width="1.5" height="12.1"/><rect x="396.5" y="123.2" width="1.5" height="13.6"/><rect x="397.6" y="123.2" width="1.5" height="13.6"/><rect x="398.7" y="123.2" width="1.5" height="12.9"/><rect x="399.8" y="123.2" width="1.5" height="14.3"/><rect x="400.9" y="123.2" width="1.5" height="13.4"/><rect x="402" y="123.5" width="1.5" height="14.6"/><rect x="403.2" y="123.2" width="1.5" height="9.1"/><rect x="404.3" y="124.5" width="1.5" height="3.6"/><rect x="405.4" y="123.2" width="1.5" height="12.2"/><rect x="406.5" y="124.9" width="1.5" height="7"/><rect x="407.6" y="124.6" width="1.5" height="9"/><rect x="408.7" y="123.2" width="1.5" height="10.2"/><rect x="409.8" y="124.9" width="1.5" height="9.5"/><rect x="410.9" y="124.4" width="1.5" height="9.8"/><rect x="412" y="124.4" width="1.5" height="15.2"/><rect x="413.1" y="124.6" width="1.5" height="16.2"/><rect x="414.2" y="123.2" width="1.5" height="19.6"/><rect x="415.3" y="124.3" width="1.5" height="17.9"/><rect x="416.4" y="123.9" width="1.5" height="16.2"/><rect x="417.5" y="123.3" width="1.5" height="17.1"/><rect x="418.6" y="123.2" width="1.5" height="19.8"/><rect x="419.7" y="123.2" width="1.5" height="13.4"/><rect x="420.8" y="123.2" width="1.5" height="11.5"/><rect x="421.9" y="125.4" width="1.5" height="5.1"/><rect x="423" y="123.2" width="1.5" height="7.2"/><rect x="424.1" y="124.7" width="1.5" height="3.9"/><rect x="425.3" y="124.3" width="1.5" height="1.7"/><rect x="426.4" y="123.2" width="1.5" height="1.4"/><rect x="427.5" y="123.2" width="1.5" height="3.6"/><rect x="428.6" y="121.4" width="1.5" height="1.8"/><rect x="429.7" y="123.2" width="1.5" height="1.4"/><rect x="430.8" y="123.2" width="1.5" height="1.5"/><rect x="431.9" y="123.3" width="1.5" height="1.6"/><rect x="433" y="123.2" width="1.5" height="6.9"/><rect x="434.1" y="123.6" width="1.5" height="7.3"/><rect x="435.2" y="123.2" width="1.5" height="15.5"/><rect x="436.3" y="123.2" width="1.5" height="18.2"/><rect x="437.4" y="124" width="1.5" height="15"/><rect x="438.5" y="124.1" width="1.5" height="17.8"/><rect x="439.6" y="123.8" width="1.5" height="18.9"/><rect x="440.7" y="123.7" width="1.5" height="22.6"/><rect x="441.8" y="123.2" width="1.5" height="19.1"/><rect x="442.9" y="123.7" width="1.5" height="14.3"/><rect x="444" y="123.2" width="1.5" height="12.4"/><rect x="445.1" y="123.2" width="1.5" height="14.3"/><rect x="446.2" y="123.2" width="1.5" height="17.8"/><rect x="447.4" y="123.2" width="1.5" height="19.4"/><rect x="448.5" y="123.7" width="1.5" height="18.4"/><rect x="449.6" y="124.5" width="1.5" height="20.9"/><rect x="450.7" y="123.2" width="1.5" height="28.6"/><rect x="451.8" y="123.9" width="1.5" height="27.4"/><rect x="452.9" y="124.8" width="1.5" height="31.9"/><rect x="454" y="123.2" width="1.5" height="28.8"/><rect x="455.1" y="123.2" width="1.5" height="27.6"/><rect x="456.2" y="124.4" width="1.5" height="30.8"/><rect x="457.3" y="123.6" width="1.5" height="35.3"/><rect x="458.4" y="123.2" width="1.5" height="39.6"/><rect x="459.5" y="123.2" width="1.5" height="38.5"/><rect x="460.6" y="123.2" width="1.5" height="41.3"/><rect x="461.7" y="123.7" width="1.5" height="26.2"/><rect x="462.8" y="123.6" width="1.5" height="46.4"/><rect x="463.9" y="123.6" width="1.5" height="21.4"/><rect x="465" y="123.2" width="1.5" height="35"/><rect x="466.1" y="123.2" width="1.5" height="22.4"/><rect x="467.2" y="125.3" width="1.5" height="35.2"/><rect x="468.3" y="123.9" width="1.5" height="19.1"/><rect x="469.5" y="124.9" width="1.5" height="33.2"/><rect x="470.6" y="123.2" width="1.5" height="17.4"/><rect x="471.7" y="123.2" width="1.5" height="32"/><rect x="472.8" y="124.7" width="1.5" height="15.5"/><rect x="473.9" y="123.2" width="1.5" height="32.1"/><rect x="475" y="123.8" width="1.5" height="18.6"/><rect x="476.1" y="124.8" width="1.5" height="24.7"/><rect x="477.2" y="123.2" width="1.5" height="19"/><rect x="478.3" y="123.2" width="1.5" height="28.2"/><rect x="479.4" y="124.5" width="1.5" height="25.8"/><rect x="480.5" y="123.2" width="1.5" height="33.3"/><rect x="481.6" y="125" width="1.5" height="33.1"/><rect x="482.7" y="123.2" width="1.5" height="34.5"/><rect x="483.8" y="124" width="1.5" height="10.2"/><rect x="484.9" y="123.8" width="1.5" height="30.5"/><rect x="486" y="124.9" width="1.5" height="9.4"/><rect x="487.1" y="124.8" width="1.5" height="24.1"/><rect x="488.2" y="123.2" width="1.5" height="18.1"/><rect x="489.3" y="123.2" width="1.5" height="38.3"/><rect x="490.4" y="123.2" width="1.5" height="13.1"/><rect x="491.6" y="123.2" width="1.5" height="31"/><rect x="492.7" y="124.9" width="1.5" height="11.2"/><rect x="493.8" y="124.1" width="1.5" height="23.3"/><rect x="494.9" y="124.3" width="1.5" height="15.9"/><rect x="496" y="123.2" width="1.5" height="40.5"/><rect x="497.1" y="123.2" width="1.5" height="27.3"/><rect x="498.2" y="125.3" width="1.5" height="40.8"/><rect x="499.3" y="123.2" width="1.5" height="15.8"/><rect x="500.4" y="123.2" width="1.5" height="47.2"/><rect x="501.5" y="123.2" width="1.5" height="41.5"/><rect x="502.6" y="123.7" width="1.5" height="37.6"/><rect x="503.7" y="123.2" width="1.5" height="38.9"/><rect x="504.8" y="124.5" width="1.5" height="32.6"/><rect x="505.9" y="124.8" width="1.5" height="37.4"/><rect x="507" y="123.2" width="1.5" height="46.8"/><rect x="508.1" y="123.2" width="1.5" height="49"/><rect x="509.2" y="123.2" width="1.5" height="44.3"/><rect x="510.3" y="123.2" width="1.5" height="43.2"/><rect x="511.4" y="123.2" width="1.5" height="41.1"/><rect x="512.5" y="123.2" width="1.5" height="42.5"/><rect x="513.7" y="123.3" width="1.5" height="40.1"/><rect x="514.8" y="123.2" width="1.5" height="36.2"/><rect x="515.9" y="123.2" width="1.5" height="23"/><rect x="517" y="123.3" width="1.5" height="4.3"/><rect x="518.1" y="123.2" width="1.5" height="19.7"/><rect x="519.2" y="123.6" width="1.5" height="10.8"/><rect x="520.3" y="123.2" width="1.5" height="16.4"/><rect x="521.4" y="123.2" width="1.5" height="9.4"/><rect x="522.5" y="123.5" width="1.5" height="15.1"/><rect x="523.6" y="124" width="1.5" height="14.6"/><rect x="524.7" y="123.2" width="1.5" height="17.6"/><rect x="525.8" y="123.2" width="1.5" height="10.3"/><rect x="526.9" y="123.2" width="1.5" height="27.8"/><rect x="528" y="123.2" width="1.5" height="18.4"/><rect x="529.1" y="124.9" width="1.5" height="25.2"/><rect x="530.2" y="123.2" width="1.5" height="12.3"/><rect x="531.3" y="125.2" width="1.5" height="19.2"/><rect x="532.4" y="123.2" width="1.5" height="15.8"/><rect x="533.5" y="124.1" width="1.5" height="29.6"/><rect x="534.6" y="124.4" width="1.5" height="21"/><rect x="535.8" y="123.2" width="1.5" height="24.9"/><rect x="536.9" y="123.2" width="1.5" height="9.3"/><rect x="538" y="123.5" width="1.5" height="28.6"/><rect x="539.1" y="124.4" width="1.5" height="11"/><rect x="540.2" y="123.2" width="1.5" height="53.2"/><rect x="541.3" y="125" width="1.5" height="59.9"/><rect x="542.4" y="124.9" width="1.5" height="56.7"/><rect x="543.5" y="123.2" width="1.5" height="57.3"/><rect x="544.6" y="124.3" width="1.5" height="43.4"/><rect x="545.7" y="124" width="1.5" height="49.1"/><rect x="546.8" y="123.2" width="1.5" height="47.8"/><rect x="547.9" y="123.7" width="1.5" height="46"/><rect x="549" y="123.2" width="1.5" height="47.5"/><rect x="550.1" y="125.3" width="1.5" height="37.7"/><rect x="551.2" y="124" width="1.5" height="42.4"/><rect x="552.3" y="123.2" width="1.5" height="43.6"/><rect x="553.4" y="123.3" width="1.5" height="48.2"/><rect x="554.5" y="124.1" width="1.5" height="40.1"/><rect x="555.6" y="123.2" width="1.5" height="45.5"/><rect x="556.7" y="123.2" width="1.5" height="41.8"/><rect x="557.9" y="123.3" width="1.5" height="41.5"/><rect x="559" y="123.2" width="1.5" height="41"/><rect x="560.1" y="124.5" width="1.5" height="40.9"/><rect x="561.2" y="124.6" width="1.5" height="39.4"/><rect x="562.3" y="125.2" width="1.5" height="43.6"/><rect x="563.4" y="123.2" width="1.5" height="44.1"/><rect x="564.5" y="123.2" width="1.5" height="39.7"/><rect x="565.6" y="123.2" width="1.5" height="41.1"/><rect x="566.7" y="123.2" width="1.5" height="34.5"/><rect x="567.8" y="123.4" width="1.5" height="42"/></g>
<g fill="#B9CDE5" shape-rendering="crispEdges"><rect x="82.7" y="100.3" width="1.5" height="9.6"/><rect x="83.8" y="104.3" width="1.5" height="15.6"/><rect x="84.9" y="111.4" width="1.5" height="6.5"/><rect x="86" y="117.2" width="1.5" height="5.8"/><rect x="87.1" y="119" width="1.5" height="3.6"/><rect x="88.2" y="123.1" width="1.5" height="0.1"/><rect x="89.3" y="117.8" width="1.5" height="5.1"/><rect x="90.4" y="113.1" width="1.5" height="7.3"/><rect x="91.5" y="107.3" width="1.5" height="9.6"/><rect x="92.6" y="110.4" width="1.5" height="12"/><rect x="93.8" y="111.7" width="1.5" height="3.1"/><rect x="94.9" y="116" width="1.5" height="5.3"/><rect x="96" y="119.1" width="1.5" height="2"/><rect x="97.1" y="122.3" width="1.5" height="0.9"/><rect x="98.2" y="120.9" width="1.5" height="2.3"/><rect x="99.3" y="129.5" width="1.5" height="3.7"/><rect x="100.4" y="122.5" width="1.5" height="0.7"/><rect x="101.5" y="127.6" width="1.5" height="5.6"/><rect x="102.6" y="119.9" width="1.5" height="1.2"/><rect x="103.7" y="131.6" width="1.5" height="4.3"/><rect x="104.8" y="130.4" width="1.5" height="1.4"/><rect x="105.9" y="125" width="1.5" height="3.1"/><rect x="107" y="120.9" width="1.5" height="1.1"/><rect x="108.1" y="121.2" width="1.5" height="0.5"/><rect x="109.2" y="117.3" width="1.5" height="3.8"/><rect x="110.3" y="119" width="1.5" height="2.5"/><rect x="111.4" y="116" width="1.5" height="4.5"/><rect x="112.5" y="110.4" width="1.5" height="10.7"/><rect x="113.6" y="103.7" width="1.5" height="8.4"/><rect x="114.7" y="101.8" width="1.5" height="16.3"/><rect x="115.9" y="96.6" width="1.5" height="9.1"/><rect x="117" y="96.2" width="1.5" height="22.7"/><rect x="118.1" y="93.7" width="1.5" height="9.6"/><rect x="119.2" y="93.2" width="1.5" height="20.1"/><rect x="120.3" y="96.5" width="1.5" height="8.9"/><rect x="121.4" y="103.9" width="1.5" height="15.7"/><rect x="122.5" y="112.3" width="1.5" height="6.5"/><rect x="123.6" y="117.8" width="1.5" height="5.4"/><rect x="124.7" y="120.6" width="1.5" height="2.4"/><rect x="125.8" y="120.6" width="1.5" height="2.3"/><rect x="126.9" y="116.2" width="1.5" height="4.9"/><rect x="128" y="115.8" width="1.5" height="7.4"/><rect x="129.1" y="116.4" width="1.5" height="3.6"/><rect x="130.2" y="113.5" width="1.5" height="8.1"/><rect x="131.3" y="112.6" width="1.5" height="7.6"/><rect x="132.4" y="108.6" width="1.5" height="10.6"/><rect x="133.5" y="108.7" width="1.5" height="6"/><rect x="134.6" y="112.8" width="1.5" height="7"/><rect x="135.7" y="112.7" width="1.5" height="5.5"/><rect x="136.8" y="110.6" width="1.5" height="11"/><rect x="138" y="106" width="1.5" height="7.3"/><rect x="139.1" y="100.5" width="1.5" height="18.3"/><rect x="140.2" y="92.5" width="1.5" height="13.5"/><rect x="141.3" y="104.6" width="1.5" height="12.8"/><rect x="142.4" y="123.2" width="1.5" height="0.5"/><rect x="143.5" y="122.3" width="1.5" height="0.9"/><rect x="144.6" y="122.4" width="1.5" height="0.8"/><rect x="145.7" y="144.2" width="1.5" height="0.8"/><rect x="146.8" y="146.9" width="1.5" height="0.5"/><rect x="147.9" y="117.4" width="1.5" height="4.9"/><rect x="149" y="121.7" width="1.5" height="1.1"/><rect x="150.1" y="120.9" width="1.5" height="1.4"/><rect x="151.2" y="122.7" width="1.5" height="0.2"/><rect x="152.3" y="144.4" width="1.5" height="0.6"/><rect x="153.4" y="120.5" width="1.5" height="2.7"/><rect x="154.5" y="121" width="1.5" height="2.2"/><rect x="155.6" y="120.7" width="1.5" height="2.2"/><rect x="156.7" y="121.2" width="1.5" height="0.3"/><rect x="157.8" y="144.8" width="1.5" height="0.7"/><rect x="158.9" y="117.7" width="1.5" height="5.5"/><rect x="160" y="145.2" width="1.5" height="1"/><rect x="161.2" y="122.1" width="1.5" height="0.5"/><rect x="162.3" y="144.1" width="1.5" height="0.8"/><rect x="163.4" y="122.2" width="1.5" height="0.8"/><rect x="164.5" y="121.6" width="1.5" height="0.6"/><rect x="165.6" y="121" width="1.5" height="0.4"/><rect x="166.7" y="141" width="1.5" height="0.2"/><rect x="167.8" y="121.8" width="1.5" height="0.1"/><rect x="168.9" y="122.5" width="1.5" height="0.2"/><rect x="170" y="118.9" width="1.5" height="3.8"/><rect x="171.1" y="120.6" width="1.5" height="0.5"/><rect x="172.2" y="123" width="1.5" height="0.2"/><rect x="173.3" y="133.7" width="1.5" height="0.8"/><rect x="174.4" y="118.5" width="1.5" height="3.6"/><rect x="175.5" y="119" width="1.5" height="4.2"/><rect x="176.6" y="122.4" width="1.5" height="0.8"/><rect x="177.7" y="121.4" width="1.5" height="1.8"/><rect x="178.8" y="121.4" width="1.5" height="1"/><rect x="179.9" y="139.2" width="1.5" height="0.1"/><rect x="181" y="117.5" width="1.5" height="4"/><rect x="182.1" y="122.6" width="1.5" height="0.6"/><rect x="183.3" y="140.8" width="1.5" height="0.2"/><rect x="184.4" y="122" width="1.5" height="0.8"/><rect x="185.5" y="122.5" width="1.5" height="0.7"/><rect x="186.6" y="142.5" width="1.5" height="0.4"/><rect x="187.7" y="142.6" width="1.5" height="0.4"/><rect x="188.8" y="122.9" width="1.5" height="0.3"/><rect x="189.9" y="118.2" width="1.5" height="5"/><rect x="191" y="141.2" width="1.5" height="0.9"/><rect x="192.1" y="138" width="1.5" height="0.9"/><rect x="193.2" y="138.5" width="1.5" height="0.4"/><rect x="194.3" y="121.1" width="1.5" height="0.8"/><rect x="195.4" y="118.2" width="1.5" height="5"/><rect x="196.5" y="122.9" width="1.5" height="0.3"/><rect x="197.6" y="122.4" width="1.5" height="0.3"/><rect x="198.7" y="121.6" width="1.5" height="0.9"/><rect x="199.8" y="119.5" width="1.5" height="2.9"/><rect x="200.9" y="120.4" width="1.5" height="2.8"/><rect x="202" y="120.6" width="1.5" height="1.6"/><rect x="204.2" y="129.5" width="1.5" height="0.2"/><rect x="205.4" y="128.6" width="1.5" height="0.8"/><rect x="206.5" y="128.8" width="1.5" height="0.7"/><rect x="207.6" y="122.4" width="1.5" height="0.8"/><rect x="208.7" y="122.4" width="1.5" height="0.8"/><rect x="209.8" y="129.4" width="1.5" height="0.1"/><rect x="210.9" y="118.2" width="1.5" height="4.3"/><rect x="212" y="121.4" width="1.5" height="0.4"/><rect x="213.1" y="122.2" width="1.5" height="1"/><rect x="214.2" y="120.5" width="1.5" height="0.6"/><rect x="215.3" y="122.5" width="1.5" height="0.7"/><rect x="216.4" y="120.6" width="1.5" height="2.6"/><rect x="218.6" y="129.2" width="1.5" height="0.9"/><rect x="219.7" y="119.9" width="1.5" height="2"/><rect x="220.8" y="121" width="1.5" height="0.9"/><rect x="221.9" y="122.4" width="1.5" height="0.7"/><rect x="224.1" y="119.9" width="1.5" height="1.3"/><rect x="225.2" y="118.7" width="1.5" height="4.4"/><rect x="226.3" y="121.9" width="1.5" height="0.7"/><rect x="227.5" y="120.6" width="1.5" height="2.3"/><rect x="228.6" y="134.8" width="1.5" height="0.6"/><rect x="230.8" y="119.7" width="1.5" height="3.2"/><rect x="231.9" y="131.9" width="1.5" height="0.9"/><rect x="233" y="133.9" width="1.5" height="0.2"/><rect x="235.2" y="119.1" width="1.5" height="3.2"/><rect x="236.3" y="122.4" width="1.5" height="0.8"/><rect x="237.4" y="129.4" width="1.5" height="0.7"/><rect x="238.5" y="123.8" width="1.5" height="7.5"/><rect x="239.6" y="131" width="1.5" height="3.9"/><rect x="240.7" y="127.1" width="1.5" height="8.2"/><rect x="241.8" y="130.2" width="1.5" height="8.6"/><rect x="242.9" y="124.8" width="1.5" height="16.1"/><rect x="244" y="137.3" width="1.5" height="5.4"/><rect x="245.1" y="125.8" width="1.5" height="18.4"/><rect x="246.2" y="137.8" width="1.5" height="7.6"/><rect x="247.3" y="132.5" width="1.5" height="15.6"/><rect x="248.4" y="144.3" width="1.5" height="6.7"/><rect x="249.6" y="122.4" width="1.5" height="0.8"/><rect x="250.7" y="148.2" width="1.5" height="0.2"/><rect x="251.8" y="149.5" width="1.5" height="0.7"/><rect x="252.9" y="122.9" width="1.5" height="0.3"/><rect x="254" y="122.8" width="1.5" height="0.2"/><rect x="255.1" y="118.7" width="1.5" height="3"/><rect x="256.2" y="152.6" width="1.5" height="0.4"/><rect x="257.3" y="152.6" width="1.5" height="0.6"/><rect x="258.4" y="156.1" width="1.5" height="0.7"/><rect x="259.5" y="151.4" width="1.5" height="0.5"/><rect x="260.6" y="149.3" width="1.5" height="0.2"/><rect x="261.7" y="120.3" width="1.5" height="1.6"/><rect x="262.8" y="121.6" width="1.5" height="0.8"/><rect x="263.9" y="121.5" width="1.5" height="0.9"/><rect x="265" y="122.7" width="1.5" height="0.5"/><rect x="266.1" y="152.3" width="1.5" height="0.6"/><rect x="267.2" y="123.1" width="1.5" height="0.1"/><rect x="268.3" y="122.8" width="1.5" height="0.1"/><rect x="269.4" y="122.4" width="1.5" height="0.8"/><rect x="270.5" y="120.8" width="1.5" height="0.9"/><rect x="271.7" y="119.4" width="1.5" height="3.8"/><rect x="272.8" y="138.5" width="1.5" height="0.3"/><rect x="273.9" y="139.4" width="1.5" height="0.1"/><rect x="275" y="120" width="1.5" height="2.8"/><rect x="276.1" y="119.9" width="1.5" height="1.8"/><rect x="277.2" y="132.9" width="1.5" height="0.6"/><rect x="278.3" y="130" width="1.5" height="1"/><rect x="279.4" y="121.1" width="1.5" height="0.4"/><rect x="280.5" y="136.9" width="1.5" height="0.2"/><rect x="281.6" y="121.8" width="1.5" height="1"/><rect x="282.7" y="118.2" width="1.5" height="3.6"/><rect x="283.8" y="121.5" width="1.5" height="0.6"/><rect x="284.9" y="122.4" width="1.5" height="0.8"/><rect x="286" y="121.8" width="1.5" height="0.5"/><rect x="287.1" y="130" width="1.5" height="0.9"/><rect x="288.2" y="126.1" width="1.5" height="1"/><rect x="289.3" y="122" width="1.5" height="0.2"/><rect x="290.4" y="116.9" width="1.5" height="1.8"/><rect x="291.5" y="123.2" width="1.5" height="0.6"/><rect x="292.6" y="109.2" width="1.5" height="0.3"/><rect x="293.8" y="123.2" width="1.5" height="0.4"/><rect x="294.9" y="107.4" width="1.5" height="0.6"/><rect x="296" y="110" width="1.5" height="1"/><rect x="297.1" y="123.2" width="1.5" height="1.9"/><rect x="298.2" y="108.4" width="1.5" height="1"/><rect x="299.3" y="124.3" width="1.5" height="0.4"/><rect x="300.4" y="125.2" width="1.5" height="1.2"/><rect x="301.5" y="123.7" width="1.5" height="1.6"/><rect x="302.6" y="101.7" width="1.5" height="1.6"/><rect x="304.8" y="99.3" width="1.5" height="0.3"/><rect x="305.9" y="99" width="1.5" height="0.6"/><rect x="307" y="123.2" width="1.5" height="1.7"/><rect x="308.1" y="100.5" width="1.5" height="1"/><rect x="309.2" y="101.3" width="1.5" height="1.7"/><rect x="310.3" y="124.7" width="1.5" height="0.1"/><rect x="312.5" y="123.2" width="1.5" height="1.8"/><rect x="313.6" y="123.2" width="1.5" height="0.3"/><rect x="314.7" y="115" width="1.5" height="0.4"/><rect x="315.9" y="123.8" width="1.5" height="0.9"/><rect x="317" y="118.5" width="1.5" height="0.2"/><rect x="318.1" y="116.8" width="1.5" height="0.9"/><rect x="319.2" y="124.1" width="1.5" height="1.9"/><rect x="320.3" y="124.3" width="1.5" height="1.8"/><rect x="321.4" y="115.1" width="1.5" height="1"/><rect x="322.5" y="109.3" width="1.5" height="1.6"/><rect x="323.6" y="123.2" width="1.5" height="1.8"/><rect x="324.7" y="105.2" width="1.5" height="1.8"/><rect x="325.8" y="102.2" width="1.5" height="1.6"/><rect x="326.9" y="123.5" width="1.5" height="0.1"/><rect x="328" y="123.2" width="1.5" height="1"/><rect x="329.1" y="98" width="1.5" height="1.7"/><rect x="330.2" y="123.2" width="1.5" height="0.1"/><rect x="331.3" y="92.6" width="1.5" height="1.3"/><rect x="332.4" y="123.2" width="1.5" height="1.5"/><rect x="333.5" y="123.2" width="1.5" height="0.2"/><rect x="334.6" y="124.5" width="1.5" height="1.8"/><rect x="335.7" y="123.2" width="1.5" height="1.5"/><rect x="336.9" y="87.3" width="1.5" height="0.7"/><rect x="338" y="123.4" width="1.5" height="1"/><rect x="339.1" y="123.2" width="1.5" height="0.3"/><rect x="340.2" y="86.4" width="1.5" height="0.1"/><rect x="341.3" y="85.3" width="1.5" height="1.8"/><rect x="342.4" y="123.2" width="1.5" height="1"/><rect x="343.5" y="83" width="1.5" height="1.6"/><rect x="344.6" y="88.9" width="1.5" height="0.5"/><rect x="345.7" y="123.8" width="1.5" height="0.9"/><rect x="346.8" y="90.2" width="1.5" height="0.3"/><rect x="347.9" y="90.6" width="1.5" height="0.5"/><rect x="349" y="123.2" width="1.5" height="1.2"/><rect x="350.1" y="89.7" width="1.5" height="1.9"/><rect x="351.2" y="90.4" width="1.5" height="1.5"/><rect x="352.3" y="125.2" width="1.5" height="1.8"/><rect x="353.4" y="124.2" width="1.5" height="0.3"/><rect x="354.5" y="123.2" width="1.5" height="1.6"/><rect x="355.6" y="122.7" width="1.5" height="0.3"/><rect x="356.7" y="122.2" width="1.5" height="0.3"/><rect x="357.8" y="149.7" width="1.5" height="0.6"/><rect x="359" y="122.5" width="1.5" height="0.7"/><rect x="360.1" y="120" width="1.5" height="3.2"/><rect x="361.2" y="146.5" width="1.5" height="0.6"/><rect x="362.3" y="120" width="1.5" height="3.2"/><rect x="363.4" y="122.2" width="1.5" height="1"/><rect x="364.5" y="122.7" width="1.5" height="0.5"/><rect x="365.6" y="132" width="1.5" height="0.3"/><rect x="366.7" y="129.2" width="1.5" height="0.8"/><rect x="368.9" y="119.3" width="1.5" height="3.1"/><rect x="370" y="120.6" width="1.5" height="2.6"/><rect x="371.1" y="122.8" width="1.5" height="0.4"/><rect x="372.2" y="121.8" width="1.5" height="0.6"/><rect x="373.3" y="140.3" width="1.5" height="0.3"/><rect x="374.4" y="123.1" width="1.5" height="0.1"/><rect x="375.5" y="120.5" width="1.5" height="0.8"/><rect x="376.6" y="146.9" width="1.5" height="0.4"/><rect x="377.7" y="122.3" width="1.5" height="0.9"/><rect x="378.8" y="120" width="1.5" height="1.4"/><rect x="379.9" y="139.2" width="1.5" height="0.2"/><rect x="381.1" y="120.9" width="1.5" height="2.3"/><rect x="382.2" y="121.2" width="1.5" height="0.7"/><rect x="383.3" y="119.9" width="1.5" height="3"/><rect x="384.4" y="121.4" width="1.5" height="0.1"/><rect x="385.5" y="123" width="1.5" height="0.1"/><rect x="386.6" y="120.5" width="1.5" height="0.6"/><rect x="387.7" y="122.6" width="1.5" height="0.6"/><rect x="388.8" y="120.3" width="1.5" height="2.9"/><rect x="389.9" y="118.9" width="1.5" height="2.5"/><rect x="391" y="122.9" width="1.5" height="0.3"/><rect x="392.1" y="120.1" width="1.5" height="3.1"/><rect x="393.2" y="130.9" width="1.5" height="0.2"/><rect x="394.3" y="122.9" width="1.5" height="0.3"/><rect x="395.4" y="122.8" width="1.5" height="0.4"/><rect x="396.5" y="136.8" width="1.5" height="0.2"/><rect x="397.6" y="121.1" width="1.5" height="0.7"/><rect x="398.7" y="121.1" width="1.5" height="0.8"/><rect x="400.9" y="136.6" width="1.5" height="0.2"/><rect x="402" y="120.2" width="1.5" height="3"/><rect x="403.2" y="132.3" width="1.5" height="0.7"/><rect x="404.3" y="128.1" width="1.5" height="0.4"/><rect x="405.4" y="119.9" width="1.5" height="1.2"/><rect x="406.5" y="122.6" width="1.5" height="0.6"/><rect x="407.6" y="121.4" width="1.5" height="1.8"/><rect x="408.7" y="133.4" width="1.5" height="0.9"/><rect x="409.8" y="122.3" width="1.5" height="0.9"/><rect x="410.9" y="123" width="1.5" height="0.2"/><rect x="412" y="122.1" width="1.5" height="1.1"/><rect x="413.1" y="140.8" width="1.5" height="0.4"/><rect x="415.3" y="122.4" width="1.5" height="0.8"/><rect x="416.4" y="122.3" width="1.5" height="0.9"/><rect x="417.5" y="123" width="1.5" height="0.2"/><rect x="418.6" y="143" width="1.5" height="0.2"/><rect x="419.7" y="136.6" width="1.5" height="0.5"/><rect x="420.8" y="134.7" width="1.5" height="0.5"/><rect x="421.9" y="130.5" width="1.5" height="0.3"/><rect x="423" y="121.7" width="1.5" height="0.2"/><rect x="424.1" y="121.9" width="1.5" height="1.3"/><rect x="426.4" y="124.6" width="1.5" height="0.5"/><rect x="427.5" y="120" width="1.5" height="3.1"/><rect x="428.6" y="120.7" width="1.5" height="0.7"/><rect x="429.7" y="120.7" width="1.5" height="1.1"/><rect x="430.8" y="120.3" width="1.5" height="1.9"/><rect x="431.9" y="123" width="1.5" height="0.2"/><rect x="433" y="121" width="1.5" height="0.6"/><rect x="434.1" y="130.9" width="1.5" height="0.8"/><rect x="435.2" y="119.6" width="1.5" height="2.2"/><rect x="436.3" y="119.8" width="1.5" height="3.3"/><rect x="437.4" y="139.1" width="1.5" height="0.8"/><rect x="438.5" y="122.8" width="1.5" height="0.4"/><rect x="439.6" y="142.7" width="1.5" height="0.8"/><rect x="440.7" y="122.3" width="1.5" height="0.9"/><rect x="441.8" y="142.3" width="1.5" height="1"/><rect x="442.9" y="138" width="1.5" height="0.5"/><rect x="444" y="135.6" width="1.5" height="1"/><rect x="445.1" y="137.5" width="1.5" height="0.6"/><rect x="446.2" y="121.2" width="1.5" height="1.5"/><rect x="447.4" y="121.7" width="1.5" height="1.3"/><rect x="448.5" y="142.1" width="1.5" height="0.5"/><rect x="449.6" y="145.4" width="1.5" height="0.3"/><rect x="450.7" y="120.8" width="1.5" height="0.4"/><rect x="451.8" y="151.3" width="1.5" height="0.8"/><rect x="452.9" y="120.5" width="1.5" height="2.7"/><rect x="454" y="120.7" width="1.5" height="1.6"/><rect x="455.1" y="150.8" width="1.5" height="0.8"/><rect x="456.2" y="122.7" width="1.5" height="0.5"/><rect x="457.3" y="159" width="1.5" height="0.4"/><rect x="458.4" y="162.8" width="1.5" height="2.6"/><rect x="459.5" y="161.7" width="1.5" height="4.1"/><rect x="460.6" y="164.5" width="1.5" height="5.6"/><rect x="461.7" y="149.9" width="1.5" height="22.3"/><rect x="462.8" y="170" width="1.5" height="3.5"/><rect x="463.9" y="145.1" width="1.5" height="28.1"/><rect x="465" y="158.2" width="1.5" height="15.6"/><rect x="466.1" y="145.6" width="1.5" height="25"/><rect x="467.2" y="160.6" width="1.5" height="7.8"/><rect x="468.3" y="143" width="1.5" height="24"/><rect x="469.5" y="158.1" width="1.5" height="8.1"/><rect x="470.6" y="140.6" width="1.5" height="24.8"/><rect x="471.7" y="155.2" width="1.5" height="10.9"/><rect x="472.8" y="140.3" width="1.5" height="23.7"/><rect x="473.9" y="155.3" width="1.5" height="9.7"/><rect x="475" y="142.5" width="1.5" height="19.6"/><rect x="476.1" y="149.4" width="1.5" height="11.1"/><rect x="477.2" y="142.2" width="1.5" height="17.5"/><rect x="478.3" y="151.4" width="1.5" height="3.9"/><rect x="479.4" y="150.3" width="1.5" height="4.5"/><rect x="480.5" y="156.5" width="1.5" height="1"/><rect x="481.6" y="158.2" width="1.5" height="1.3"/><rect x="482.7" y="157.7" width="1.5" height="4"/><rect x="483.8" y="134.2" width="1.5" height="29.1"/><rect x="484.9" y="154.3" width="1.5" height="10.3"/><rect x="486" y="134.3" width="1.5" height="31.7"/><rect x="487.1" y="148.9" width="1.5" height="18.2"/><rect x="488.2" y="141.3" width="1.5" height="27.1"/><rect x="489.3" y="161.5" width="1.5" height="8"/><rect x="490.4" y="136.3" width="1.5" height="33.5"/><rect x="491.6" y="154.2" width="1.5" height="12.7"/><rect x="492.7" y="136" width="1.5" height="28.7"/><rect x="493.8" y="147.4" width="1.5" height="16.9"/><rect x="494.9" y="140.3" width="1.5" height="26.3"/><rect x="496" y="163.7" width="1.5" height="6.6"/><rect x="497.1" y="150.5" width="1.5" height="21.1"/><rect x="498.2" y="166" width="1.5" height="7.1"/><rect x="499.3" y="139" width="1.5" height="36.7"/><rect x="500.4" y="170.4" width="1.5" height="2.3"/><rect x="501.5" y="164.7" width="1.5" height="5.1"/><rect x="502.6" y="161.3" width="1.5" height="3.7"/><rect x="503.7" y="162.1" width="1.5" height="0.1"/><rect x="504.8" y="157.1" width="1.5" height="2.6"/><rect x="505.9" y="162.1" width="1.5" height="2.4"/><rect x="507" y="170" width="1.5" height="1.2"/><rect x="508.1" y="172.2" width="1.5" height="2"/><rect x="509.2" y="167.5" width="1.5" height="2.3"/><rect x="510.3" y="166.4" width="1.5" height="0.2"/><rect x="511.4" y="164.3" width="1.5" height="0.9"/><rect x="512.5" y="165.7" width="1.5" height="4"/><rect x="513.7" y="163.4" width="1.5" height="2.6"/><rect x="514.8" y="159.4" width="1.5" height="4.1"/><rect x="515.9" y="146.2" width="1.5" height="15.8"/><rect x="517" y="127.5" width="1.5" height="31.1"/><rect x="518.1" y="142.9" width="1.5" height="15.8"/><rect x="519.2" y="134.4" width="1.5" height="21.3"/><rect x="520.3" y="139.6" width="1.5" height="15.2"/><rect x="521.4" y="132.6" width="1.5" height="20.9"/><rect x="522.5" y="138.6" width="1.5" height="14.5"/><rect x="523.6" y="138.5" width="1.5" height="15.7"/><rect x="524.7" y="140.8" width="1.5" height="15.6"/><rect x="525.8" y="133.5" width="1.5" height="23.9"/><rect x="526.9" y="151" width="1.5" height="7.6"/><rect x="528" y="141.6" width="1.5" height="18.8"/><rect x="529.1" y="150.1" width="1.5" height="10.7"/><rect x="530.2" y="135.5" width="1.5" height="22"/><rect x="531.3" y="144.4" width="1.5" height="13.8"/><rect x="532.4" y="139" width="1.5" height="21.6"/><rect x="533.5" y="153.7" width="1.5" height="10.8"/><rect x="534.6" y="145.4" width="1.5" height="23.2"/><rect x="535.8" y="148.1" width="1.5" height="24.4"/><rect x="536.9" y="132.5" width="1.5" height="41.1"/><rect x="538" y="152.2" width="1.5" height="23"/><rect x="539.1" y="135.4" width="1.5" height="43.1"/><rect x="540.2" y="176.4" width="1.5" height="8.3"/><rect x="541.3" y="184.9" width="1.5" height="8.3"/><rect x="542.4" y="181.5" width="1.5" height="5.1"/><rect x="544.6" y="167.7" width="1.5" height="2.1"/><rect x="545.7" y="173.1" width="1.5" height="0.5"/><rect x="546.8" y="171" width="1.5" height="6.4"/><rect x="547.9" y="169.7" width="1.5" height="2.6"/><rect x="549" y="170.7" width="1.5" height="0.3"/><rect x="550.1" y="163" width="1.5" height="6.2"/><rect x="551.2" y="166.4" width="1.5" height="3.5"/><rect x="552.3" y="166.8" width="1.5" height="7.2"/><rect x="553.4" y="171.5" width="1.5" height="1.5"/><rect x="554.5" y="164.2" width="1.5" height="6.6"/><rect x="555.6" y="168.7" width="1.5" height="1.3"/><rect x="556.7" y="165" width="1.5" height="2.3"/><rect x="557.9" y="164.9" width="1.5" height="1.1"/><rect x="559" y="164.2" width="1.5" height="6.9"/><rect x="560.1" y="165.4" width="1.5" height="4.4"/><rect x="561.2" y="164" width="1.5" height="6.2"/><rect x="562.3" y="168.8" width="1.5" height="0.7"/><rect x="563.4" y="167.3" width="1.5" height="2.1"/><rect x="564.5" y="162.9" width="1.5" height="5.7"/><rect x="565.6" y="164.3" width="1.5" height="0.8"/><rect x="566.7" y="157.7" width="1.5" height="5.5"/><rect x="567.8" y="165.4" width="1.5" height="0.5"/></g>
<rect x="146.6" y="112.5" width="1.1" height="10.5" fill="#B9CDE5"/>
<rect x="149.6" y="103.4" width="1.1" height="20.6" fill="#B9CDE5"/>
<rect x="152.6" y="88" width="1.1" height="36" fill="#A9BEDA"/>
<rect x="157" y="108" width="1.1" height="16" fill="#B9CDE5"/>
<rect x="162" y="118.8" width="1.1" height="5.2" fill="#B9CDE5"/>
<rect x="164.4" y="119" width="1.1" height="5" fill="#B9CDE5"/>
<rect x="167.4" y="118.8" width="1.1" height="5.2" fill="#B9CDE5"/>
<rect x="169.4" y="118.8" width="1.1" height="5.2" fill="#B9CDE5"/>
<rect x="175.6" y="114.3" width="1.1" height="9.7" fill="#B9CDE5"/>
<rect x="181.9" y="113.4" width="1.1" height="10.6" fill="#B9CDE5"/>
<rect x="183.9" y="113.4" width="1.1" height="10.6" fill="#B9CDE5"/>
<rect x="185.4" y="116" width="1.1" height="8" fill="#B9CDE5"/>
<rect x="197.4" y="106" width="1.1" height="37" fill="#AFC2DC"/>
<rect x="206.4" y="112.5" width="1.1" height="11.5" fill="#B9CDE5"/>
<rect x="208.9" y="114" width="1.1" height="10" fill="#B9CDE5"/>
<rect x="210.9" y="116" width="1.1" height="8" fill="#B9CDE5"/>
<rect x="220.8" y="119.7" width="1.1" height="4.3" fill="#B9CDE5"/>
<rect x="243.4" y="122" width="1.1" height="2" fill="#B9CDE5"/>
<rect x="251.4" y="121" width="1.1" height="3" fill="#B9CDE5"/>
<rect x="271.4" y="117" width="1.1" height="7" fill="#B9CDE5"/>
<rect x="275.4" y="113" width="1.1" height="11" fill="#B9CDE5"/>
<rect x="286.9" y="113" width="1.1" height="11" fill="#B9CDE5"/>
<rect x="290.4" y="116" width="1.1" height="8" fill="#B9CDE5"/>
<rect x="291.4" y="99" width="1.1" height="36" fill="#BCC9DD"/>
<rect x="300.4" y="100" width="1.1" height="34" fill="#C5CFDF"/>
<rect x="283.9" y="111" width="1.1" height="13" fill="#B9CDE5"/>
<rect x="345.9" y="79" width="1.1" height="56" fill="#D8DCE6"/>
<rect x="354.2" y="79" width="1.1" height="24" fill="#E2E2EA"/>
<rect x="267.4" y="118" width="1.1" height="6" fill="#B9CDE5"/>
<rect x="302.9" y="116" width="1.1" height="8" fill="#B9CDE5"/>
<rect x="379.3" y="112" width="1.1" height="12" fill="#B9CDE5"/>
<rect x="384.4" y="117.4" width="1.1" height="6.6" fill="#B9CDE5"/>
<rect x="399.4" y="112" width="1.1" height="12" fill="#B9CDE5"/>
<rect x="407.2" y="118" width="1.1" height="6" fill="#B9CDE5"/>
<rect x="418.4" y="117" width="1.1" height="7" fill="#B9CDE5"/>
<rect x="460.4" y="108" width="1.1" height="16" fill="#B9CDE5"/>
<rect x="461.9" y="100" width="1.1" height="24" fill="#B9CDE5"/>
<rect x="463.3" y="84.8" width="1.1" height="39.2" fill="#A3B8D8"/>
<rect x="464.4" y="104" width="1.1" height="20" fill="#B9CDE5"/>
<rect x="466.8" y="112.2" width="1.1" height="11.8" fill="#B9CDE5"/>
<rect x="481.4" y="117.5" width="1.1" height="6.5" fill="#B9CDE5"/>
<rect x="493.2" y="109" width="1.1" height="15" fill="#B9CDE5"/>
<rect x="542.2" y="103.8" width="1.1" height="20.2" fill="#A9BEDA"/>
<rect x="544.5" y="118" width="1.1" height="6" fill="#B9CDE5"/>
<rect x="548.2" y="113.3" width="1.1" height="10.7" fill="#B9CDE5"/>
<rect x="550" y="116" width="1.1" height="8" fill="#B9CDE5"/>
<rect x="552.5" y="118" width="1.1" height="6" fill="#B9CDE5"/>
<rect x="83.5" y="96" width="1.1" height="28" fill="#E6B9B8"/>
<rect x="85.5" y="98" width="1.1" height="26" fill="#E6B9B8"/>
<rect x="107.5" y="102" width="1.1" height="22" fill="#E6B9B8"/>
<rect x="106" y="102" width="1.1" height="22" fill="#E6B9B8"/>
<rect x="127" y="97.6" width="1.1" height="26.4" fill="#E6B9B8"/>
<rect x="129.4" y="97.6" width="1.1" height="26.4" fill="#B9CDE5"/>
<rect x="86.5" y="124" width="1.1" height="18" fill="#B9CDE5"/>
<rect x="98" y="130" width="1.1" height="17.6" fill="#B9CDE5"/>
<rect x="106.5" y="128" width="1.1" height="21" fill="#B9CDE5"/>
<rect x="112.5" y="115" width="1.1" height="13" fill="#E6B9B8"/>
<rect x="117.5" y="118" width="1.1" height="14" fill="#E6B9B8"/>
<rect x="123.5" y="123" width="1.1" height="28.5" fill="#E6B9B8"/>
<rect x="126" y="123" width="1.1" height="30" fill="#E6B9B8"/>
<rect x="130.4" y="118" width="1.1" height="22" fill="#E6B9B8"/>
<rect x="133.4" y="120" width="1.1" height="17" fill="#E6B9B8"/>
<rect x="135.4" y="118" width="1.1" height="24" fill="#E6B9B8"/>
<rect x="145.9" y="143" width="1.1" height="17" fill="#E6B9B8"/>
<rect x="147.4" y="146" width="1.1" height="18" fill="#E6B9B8"/>
<rect x="149.4" y="146" width="1.1" height="22" fill="#D0B4C0"/>
<rect x="152.8" y="146" width="1.1" height="32" fill="#BFB8CC"/>
<rect x="154.4" y="146" width="1.1" height="24" fill="#E6B9B8"/>
<rect x="158.4" y="146" width="1.1" height="10" fill="#E6B9B8"/>
<rect x="162.9" y="146" width="1.1" height="7" fill="#E6B9B8"/>
<rect x="245.4" y="140" width="1.1" height="20" fill="#E6B9B8"/>
<rect x="248.4" y="145" width="1.1" height="12" fill="#E6B9B8"/>
<rect x="252.4" y="150" width="1.1" height="14" fill="#E6B9B8"/>
<rect x="255.4" y="150" width="1.1" height="10" fill="#E6B9B8"/>
<rect x="361.4" y="144" width="1.1" height="14" fill="#E6B9B8"/>
<rect x="375.4" y="144" width="1.1" height="8" fill="#E6B9B8"/>
<rect x="454.4" y="150" width="1.1" height="10" fill="#E6B9B8"/>
<rect x="463.6" y="172" width="1.1" height="41" fill="#D9B3C3"/>
<rect x="464.8" y="172" width="1.1" height="18" fill="#E6B9B8"/>
<rect x="541" y="190" width="1.1" height="17" fill="#E6B9B8"/>
<rect x="540" y="180" width="1.1" height="16" fill="#E6B9B8"/>
<rect x="544.5" y="175" width="1.1" height="12" fill="#C7C0D6"/>
<polyline fill="none" stroke="#CF7F94" stroke-width="1.2" stroke-linejoin="round" points="83.5,102 84.5,103.7 85.9,111.4 87.9,125.8 89.2,125.9 90.5,120.4 92.5,107.3 93.9,111 95.9,117.9 97.3,122.1 98.5,127.5 100.5,135.9 102,132.9 103.3,137 105.3,135.8 107.3,128.2 109.4,126.5 110.7,124.8 112.7,117.1 114.7,107 116.7,100.9 118.1,98 120.1,95.5 121.5,97.6 122.8,107.2 124.1,119.3 126.1,123.1 128.1,120.7 130.2,118.9 132.2,115 134.2,108.5 136.2,116.7 138.2,111.7 140.2,101.8 140.9,89.8 142.2,106.2 143.5,121.5 144.9,140.6 146.2,143.3 148.3,150.7 149.5,140.6 150.9,141.4 152.9,146.4 155,146.5 157,146.9 158.3,146.7 159.7,145.8 161,146.3 162.3,146 164.4,144.3 166.4,141.9 168.4,139.6 170.4,133.5 172.4,138.5 174.4,136.6 176.4,137.3 178.5,133.8 180.5,138.2 182.5,140.9 184.5,139.4 186.5,142.1 188.5,145 190.5,143.4 191.8,141.6 193,141.1 194.3,139.2 195.7,137.5 196.8,135.6 197.9,131.2 199.2,122.5 200.5,127.9 201.9,132.4 203.3,128.6 205.3,129.9 207.3,127.6 209.3,131.4 211.3,127.5 213.3,130.7 215.3,129.4 217.3,129 219.4,130.7 221.4,128.7 223.4,125.1 225.4,128.1 227.4,130.4 229.4,135.2 231.4,135.1 233.5,133.6 235.5,131.5 237.5,129.3 239.5,133.2 241.5,134.7 243.5,141.1 245.5,145.3 247.5,145.9 249.5,151.6 251.5,150.1 253.5,152.7 255.5,151 257.5,152.2 259.5,155.7 261.5,149.6 263.5,153.2 265.5,151.2 267.5,154.3 269.5,152.8 271.5,147.2 273.5,140.7 275.5,140.9 277.7,134.3 279.7,132.1 281.7,137 283.8,132.4 285.8,128.7 287.1,134.8 289.1,128.6 291.1,122 293.2,112.5 295.2,107.1 297.2,113.7 299.2,111.3 301,110.4 302.5,109 304.5,104.1 306.5,103 308.5,102.5 309.9,105.4 311.2,111.5 313.3,116.7 315.3,118 317.3,120.9 318.6,122.7 320,118 322,122.5 323.3,113.6 325.3,109.5 327.3,107.3 329.4,104.3 330.7,99.8 332.7,95.7 334.7,93.6 336.7,91.7 338.8,89.5 340.8,89.6 342.8,88.5 344.1,86 345.5,92.8 347.5,93.7 349.5,94.8 351.5,93.8 352.8,93.7 354.2,98.4 354.9,106.7 355.5,115.1 356.5,135.5 357.9,147.5 359.2,153.2 361.2,154.4 362.6,146.4 363.9,136 365.3,130.7 367.3,131.3 369.3,128.6 371.3,131.6 372.6,135.9 374.7,143.1 376.7,145.9 378,149.9 379.4,142 381.4,140.6 383.4,136.2 385.4,137.7 387.4,131.8 389.4,128.9 391.4,131.9 393.5,130.9 395.5,135.2 397.5,136.3 399.5,134 401.5,137.2 403.5,136.3 404.9,127.3 406.2,133.7 408.2,132.3 410.2,135 411.5,133.2 413.5,140.8 415.5,143.1 417.6,139.2 419.6,142.3 421.6,134 423.6,129.9 425.6,126.9 427.6,125.2 429.7,123.6 431.7,122.8 433.7,128.1 435.7,134.1 437.7,140.9 439.7,141.6 441.7,146.5 443.8,139.5 445.8,135.8 447.8,140.6 449.8,144.8 451.8,150.5 453.8,154.6 455.5,148.8 456.6,152.9 457.8,158.2 459.2,163.7 460.5,166.9 461.9,171.8 463.3,175.5 465.3,173.9 467.3,171.5 469.3,168.4 471.3,166.4 473.3,164.6 475.3,164.3 477.3,161.5 479.4,156.3 480.7,157 482.7,160.9 484.7,163.8 486.7,167.6 488.8,167.7 490.8,169.9 492.8,166.2 494.8,165.7 496.8,168.6 498.8,174.4 500.8,175.7 502.8,169.1 504.9,161.2 506.2,160 507.5,168.6 508.9,177.4 510.5,169.4 512.2,165.7 513.9,170.6 515.5,164.9 516.8,162.4 518.1,160.7 519.4,159.2 520.6,156.1 521.9,155.6 523.1,154.9 524.4,156.2 525.6,155.8 526.9,158 528.2,158 529.8,163.3 531.5,157.8 533.2,160 534.5,166.5 535.7,170.4 537.4,171.9 539.1,176.5 540.7,180.9 542.4,195.9 544.1,183.7 545.8,169.1 547.4,177.6 549.1,172.2 550.4,173 551.6,169.2 552.9,173.3 554.2,174.6 555.8,171.7 557.1,169.6 558.4,166 560,169.7 561.2,171.9 562.5,171 563.8,170.8 565.1,168.5 566.4,166.1 567.6,163.1 568.9,167.1"/>
<polyline fill="none" stroke="#48405f" stroke-width="1.25" stroke-linejoin="round" points="83,100 84,102 85.4,111 87.4,124 88.7,125.6 90,119 92,107 93.4,111 95.4,116 96.8,121.6 98,127 100,133.7 101.5,131 102.8,136.4 104.8,133.7 106.8,127 108.9,125 110.2,124.3 112.2,115 114.2,105.5 116.2,98.8 117.6,96 119.6,94.8 121,96.8 122.3,106.8 123.6,119 125.6,123 127.6,120 129.7,117.6 131.7,115 133.7,107 135.7,116 137.7,111 139.7,100 140.4,88.7 141.7,105.5 143,120.4 144.4,139 145.7,143.2 147.8,148.6 149,140.5 150.4,139.8 152.4,144.5 154.5,146.5 156.5,145.2 157.8,145.9 159.2,144.5 160.5,146.3 161.8,145.9 163.9,143.9 165.9,139.8 167.9,139.2 169.9,131.8 171.9,136.5 173.9,134.5 175.9,136.5 178,133 180,137 182,139.2 184,139.2 186,140.5 188,143.2 190,141.5 191.2,141.5 192.5,139 193.8,139 195.2,136.8 196.3,134.2 197.4,129.2 198.7,121.8 200,125.9 201.4,131.2 202.8,127.9 204.8,129.2 206.8,127.2 208.8,131.2 210.8,127.2 212.8,129.2 214.8,127.2 216.8,128.6 218.9,130.6 220.9,126.5 222.9,123.9 224.9,127.2 226.9,129.9 228.9,133.9 230.9,133.3 233,132.6 235,130.6 237,129.2 239,131.2 241,134.6 243,140 245,143.5 247,145.6 249,150 251,148 253,151.3 255,149.3 257,152 259,154.7 261,149.3 263,151.3 265,150.6 267,153.3 269,150.6 271,145.3 273,138.6 275,139.9 277.2,133.2 279.2,130.5 281.2,135.9 283.3,131.8 285.3,127.8 286.6,134.5 288.6,127.8 290.6,119.8 292.7,110.4 294.7,105.7 296.7,110.4 298.7,108.4 300.5,108 302,106.2 304,100.2 306,98.9 308,99.5 309.4,101.5 310.7,107.6 312.8,113 314.8,114.3 316.8,117 318.1,119.7 319.5,114.3 321.5,119.7 322.8,110.3 324.8,105.6 326.8,103.6 328.9,101.5 330.2,95.5 332.2,92.1 334.2,90.1 336.2,89.5 338.3,86.1 340.3,86.8 342.3,84.8 343.6,82.8 345,88.8 347,90.1 349,90.8 351,90.8 352.3,90.1 353.7,96.8 354.4,104.9 355,114.3 356,133.6 357.4,145.6 358.7,151.7 360.7,152.3 362.1,144.3 363.4,134.9 364.8,129.5 366.8,130.9 368.8,126.8 370.8,129.5 372.1,134.9 374.2,141.6 376.2,144.3 377.5,148.3 378.9,141.6 380.9,138.9 382.9,134.9 384.9,136.2 386.9,130.9 388.9,127.5 390.9,130.2 393,129.5 395,133.6 397,136.2 399,133.6 401,136.2 403,134.9 404.4,126.8 405.7,132.2 407.7,130.9 409.7,134.9 411,132.2 413,140.3 415,143 417.1,138.9 419.1,141.6 421.1,133.6 423.1,129.5 425.1,126.8 427.1,124.2 429.2,122.8 431.2,121.5 433.2,126.8 435.2,133.6 437.2,138.9 439.2,141.6 441.2,145.6 443.3,138.9 445.3,134.9 447.3,140.3 449.3,143 451.3,149.7 453.3,154.5 455,147.5 456.1,152.7 457.3,157 458.7,163 460,165.6 461.4,169.7 462.8,173.7 464.8,173 466.8,169.7 468.8,167 470.8,165.6 472.8,164.3 474.8,163 476.8,160.3 478.9,154.2 480.2,154.9 482.2,159.6 484.2,163 486.2,165.6 488.3,167.7 490.3,169.7 492.3,165 494.3,164.3 496.3,168.3 498.3,173 500.3,173.7 502.3,168.3 504.4,160.3 505.7,159.5 507,168 508.4,175.3 510,168.6 511.7,163.6 513.4,168.6 515,163.6 516.3,161.9 517.6,158.5 518.9,158.1 520.1,155.2 521.4,154.9 522.6,152.7 523.9,155.2 525.1,155.2 526.4,156.9 527.7,157.7 529.3,161.9 531,156.8 532.7,159.4 534,164.8 535.2,168.6 536.9,171.9 538.6,175.3 540.2,180.3 541.9,193.8 543.6,182 545.3,168.6 546.9,177 548.6,171.9 549.9,170.9 551.1,168.6 552.4,172 553.7,173.6 555.3,170.3 556.6,168.3 557.9,164.4 559.5,169.4 560.8,170.3 562,170.3 563.3,169.6 564.6,167.8 565.9,165.5 567.1,161.9 568.4,166.1"/>
<path d="M82.4 61.5V230.2H579.2V61.5" fill="none" stroke="#4a4a4a" stroke-width="1.4"/>
<path d="M76.5 68.2H82.4 M76.5 79.2H82.4 M76.5 90.2H82.4 M76.5 101.2H82.4 M76.5 112.2H82.4 M76.5 123.2H82.4 M76.5 134.2H82.4 M76.5 145.2H82.4 M76.5 156.2H82.4 M76.5 167.2H82.4 M76.5 178.2H82.4 M76.5 189.2H82.4 M76.5 200.2H82.4 M76.5 211.2H82.4 M76.5 222.2H82.4 M579.2 68.2H585.2 M579.2 94H585.2 M579.2 119.7H585.2 M579.2 145.4H585.2 M579.2 171.2H585.2 M579.2 196.9H585.2 M579.2 222.7H585.2" stroke="#4a4a4a" stroke-width="1.2"/>
<path d="M82.4 234V313.8H579.6" fill="none" stroke="#4a4a4a" stroke-width="1.4"/>
<path d="M76.5 241.4H82.4 M76.5 253.3H82.4 M76.5 265.2H82.4 M76.5 277.1H82.4 M76.5 289H82.4 M76.5 300.9H82.4 M76.5 312.8H82.4 M106.8 313.8V319.8 M173.1 313.8V319.8 M239.4 313.8V319.8 M305.7 313.8V319.8 M372.1 313.8V319.8 M438.4 313.8V319.8 M504.7 313.8V319.8 M571 313.8V319.8" stroke="#4a4a4a" stroke-width="1.2"/>
<g font-family="Liberation Serif, serif" font-size="11.6" fill="#1a1a1a"><text transform="translate(70,71.8) scale(0.9,1)" text-anchor="end">0.5</text><text transform="translate(70,93.8) scale(0.9,1)" text-anchor="end">0.3</text><text transform="translate(70,115.8) scale(0.9,1)" text-anchor="end">0.1</text><text transform="translate(70,137.8) scale(0.9,1)" text-anchor="end">-0.1</text><text transform="translate(70,159.8) scale(0.9,1)" text-anchor="end">-0.3</text><text transform="translate(70,181.8) scale(0.9,1)" text-anchor="end">-0.5</text><text transform="translate(70,203.8) scale(0.9,1)" text-anchor="end">-0.7</text><text transform="translate(70,225.8) scale(0.9,1)" text-anchor="end">-0.9</text><text transform="translate(589.5,71.8) scale(0.9,1)">2.25</text><text transform="translate(589.5,97.5) scale(0.9,1)">2.00</text><text transform="translate(589.5,123.3) scale(0.9,1)">1.75</text><text transform="translate(589.5,149) scale(0.9,1)">1.50</text><text transform="translate(589.5,174.8) scale(0.9,1)">1.25</text><text transform="translate(589.5,200.5) scale(0.9,1)">1.00</text><text transform="translate(589.5,226.3) scale(0.9,1)">0.75</text><text transform="translate(70.5,245) scale(0.9,1)" text-anchor="end">15.0</text><text transform="translate(70.5,268.8) scale(0.9,1)" text-anchor="end">10.0</text><text transform="translate(70.5,292.6) scale(0.9,1)" text-anchor="end">5.0</text><text transform="translate(70.5,316.4) scale(0.9,1)" text-anchor="end">0.0</text><text transform="translate(106,328.8) scale(0.9,1)" text-anchor="middle">1990</text><text transform="translate(172.3,328.8) scale(0.9,1)" text-anchor="middle">1995</text><text transform="translate(238.6,328.8) scale(0.9,1)" text-anchor="middle">2000</text><text transform="translate(304.9,328.8) scale(0.9,1)" text-anchor="middle">2005</text><text transform="translate(371.3,328.8) scale(0.9,1)" text-anchor="middle">2010</text><text transform="translate(437.6,328.8) scale(0.9,1)" text-anchor="middle">2015</text><text transform="translate(503.9,328.8) scale(0.9,1)" text-anchor="middle">2020</text><text transform="translate(570.2,328.8) scale(0.9,1)" text-anchor="middle">2025</text></g>
<text transform="translate(86.7,243.6) scale(0.62,1)" font-family="Liberation Serif, serif" font-size="10.5" fill="#222">%</text>
<polyline fill="none" stroke="#86A4CE" stroke-width="2.1" stroke-dasharray="5 4.6" stroke-linejoin="round" points="86,279 88,276.5 90.9,273 94.5,268.5 99.9,268.5 103.5,271.2 109,273.9 114.4,273.9 119.8,280.2 127.1,287.5 134.3,292.9 139.7,296.5 147,298.3 154.2,298.3 159.6,296.5 163.3,292.9 168.7,288.4 174.1,282 179.5,284.8 185,285.7 190,287.5 203.6,286.6 216.2,286.6 228,290.2 238.9,285.7 249.7,282 256.1,289.3 262.4,300.2 273.3,304.7 284.1,307.4 296.8,308.3 300,306.5 307.2,301 318.1,292.9 329,287.5 339.8,286.6 346.2,297.4 354.3,304.7 359.7,311 365,312 440,312 455,311.8 463.4,309.6 475.5,306 487.6,302.4 499.6,302.4 505.7,308.4 516.5,312 528.6,310.8 538.2,301.2 544.3,292.8 550.3,287.9 560,286.7 566,287.9"/>
<polyline fill="none" stroke="#EDB05A" stroke-width="2.1" stroke-dasharray="5 4.6" stroke-linejoin="round" points="83,280 84.5,278.4 87.2,264 90.9,253 94.5,249.5 99.9,246.8 107.1,243.1 112.6,242.2 118,245.9 121.6,251.3 125.2,258.5 130.7,263 136.1,263 141.5,268.5 143.3,276.6 147,282 152.4,284.8 157.8,285.7 163.3,288.4 168.7,287.5 174.1,282 179.5,283.9 185,282 190.4,287.5 197.2,284.8 208.1,279.3 219.9,277.5 228,286.6 238.9,286.6 249.7,283 260.6,289.3 271.4,293.8 284.1,294.7 295,292.9 307.2,289.3 318.1,292 329,288.4 341.6,285.7 352.5,289.3 357,300.2 361.5,310.1 372,310.8 427.2,310.8 441.7,310.8 453.8,310.4 465.8,311.3 477.9,309.9 491.2,309.2 504.5,309.2 515.3,312.3 528.6,311.6 535.8,307.2 540.7,301.2 545.5,294 551.5,287.9 564.8,287.4 567.2,289.1"/>
</svg>
<div class="t title" style="left:116px;font-size:16px;top:0.8px;letter-spacing:0;">图表 8:</div>
<div class="t title" style="left:179.3px;">英镑兑美元三因素分解、英美政策利率及经济周期</div>
<svg style="position:absolute;left:0;top:0" width="663" height="447"><path d="M60.4 338.8H66.5M72.6 338.8H79" stroke="#98AAC6" stroke-width="1.8"/><path d="M159 338.8H166.5M171.5 338.8H178.5" stroke="#EBC27F" stroke-width="1.8"/><rect x="282.8" y="335" width="7.6" height="7.6" fill="#D9DFC0"/><rect x="347" y="335" width="7.6" height="7.6" fill="#E6B9B8"/><rect x="411.5" y="335" width="7.6" height="7.6" fill="#B9CDE5"/><path d="M493 338.3H510.6" stroke="#CF7F94" stroke-width="1.6"/><path d="M60.4 356.8H77.6" stroke="#77767f" stroke-width="1.6"/></svg>
<div class="lg" style="left:82.5px;top:332.6px;font-family:'Liberation Serif','Noto Serif CJK SC',serif;font-size:10.2px;letter-spacing:1.6px;font-weight:400;color:#000;">联邦基金利率</div>
<div class="lg" style="left:180px;top:332.6px;font-family:'Liberation Serif','Noto Serif CJK SC',serif;font-size:10.2px;letter-spacing:1.6px;font-weight:400;color:#000;letter-spacing:2px;">英国央行政策利率</div>
<div class="lg" style="left:293.5px;top:332.6px;font-family:'Liberation Serif','Noto Serif CJK SC',serif;font-size:10.2px;letter-spacing:1.6px;font-weight:400;color:#000;">动量因素</div>
<div class="lg" style="left:357px;top:332.6px;font-family:'Liberation Serif','Noto Serif CJK SC',serif;font-size:10.2px;letter-spacing:1.6px;font-weight:400;color:#000;">价值因素</div>
<div class="lg" style="left:422.3px;top:333.20000000000005px;font-family:'Liberation Mono',monospace;font-size:11px;letter-spacing:-0.8px;">Carry Trade</div>
<div class="lg" style="left:513px;top:332.6px;font-family:'Liberation Serif','Noto Serif CJK SC',serif;font-size:10.2px;letter-spacing:1.6px;font-weight:400;color:#000;">英镑兑美元，</div>
<div class="lg" style="left:583.6px;top:333.20000000000005px;font-family:'Liberation Mono',monospace;font-size:11px;letter-spacing:-0.8px;">rhs</div>
<div class="lg" style="left:80px;top:351.1px;font-family:'Liberation Serif','Noto Serif CJK SC',serif;font-size:10.2px;letter-spacing:1.6px;font-weight:400;color:#000;">拟合值</div>
<div class="t note" style="left:43px;top:394px;color:#7E8896;font-size:12.2px;">注：粉色阴影表示 <span style="letter-spacing:0.18px">Macrobond </span>定义的英国衰退期，后同。</div>
<div class="t note" style="left:434.5px;top:429px;color:#808080;">资料来源：Macrobond，兴业研究</div>
</body></html>
